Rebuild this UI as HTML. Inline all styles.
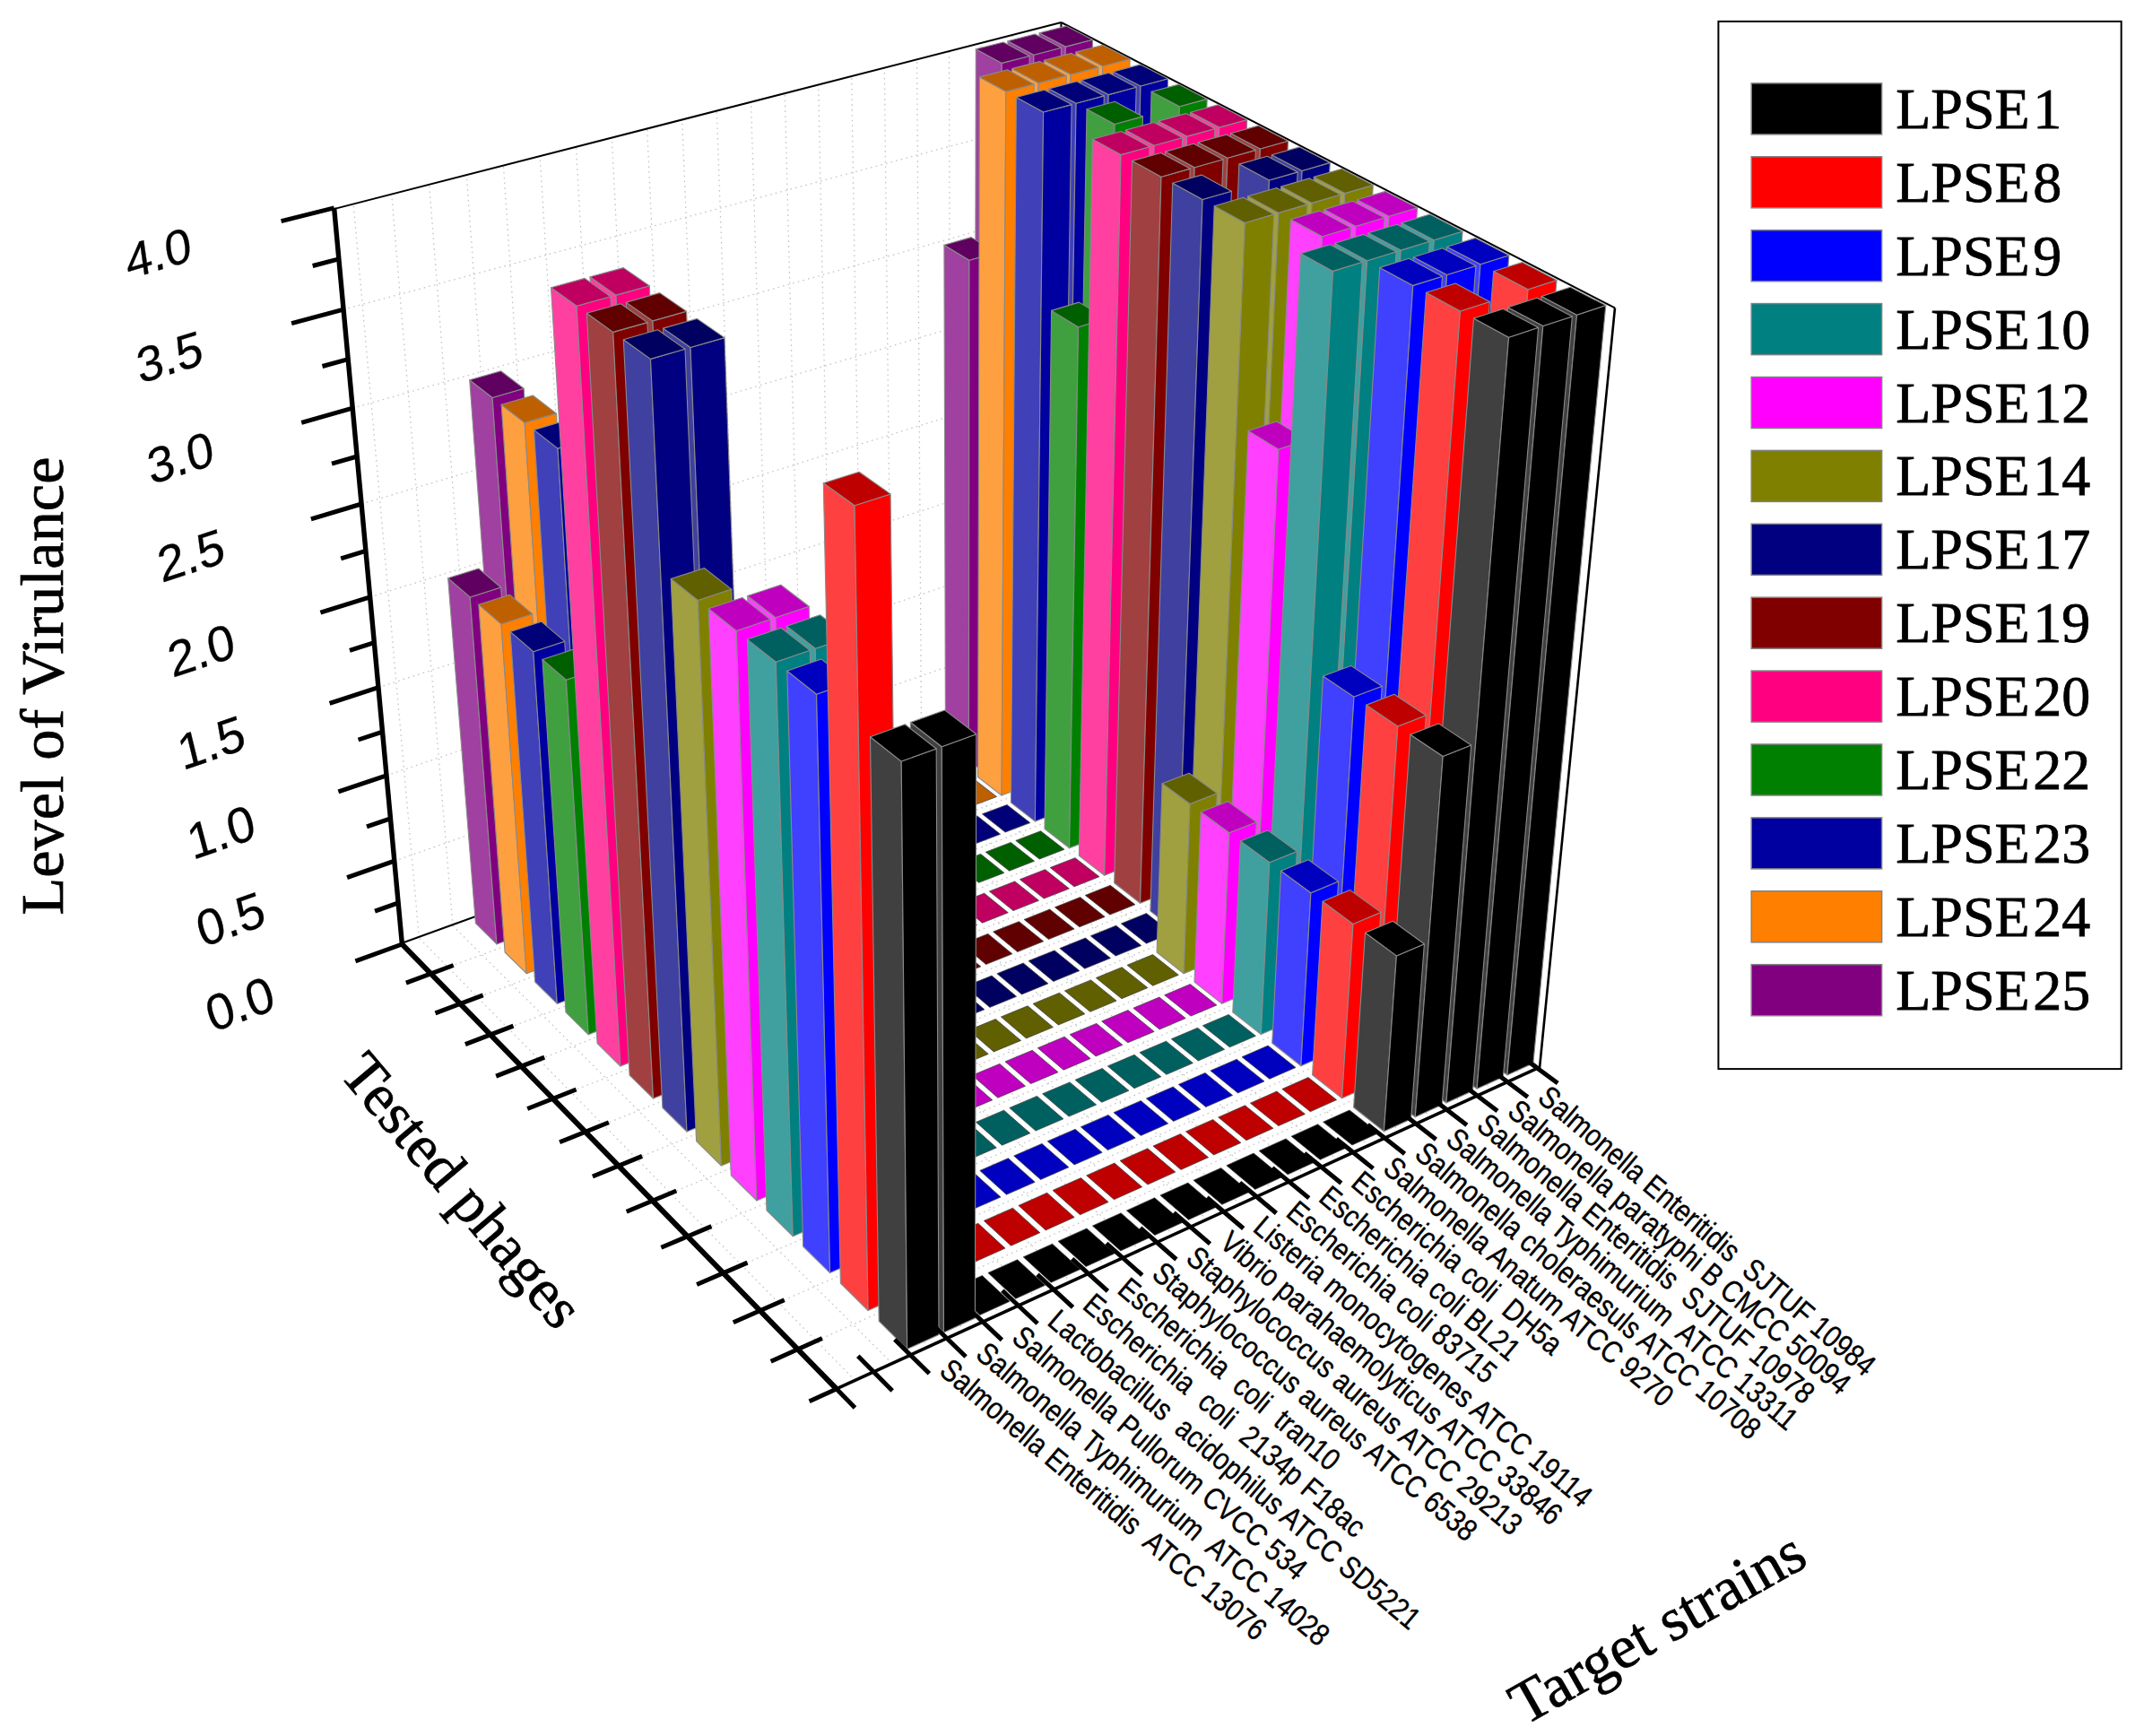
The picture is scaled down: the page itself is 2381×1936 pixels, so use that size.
<!DOCTYPE html>
<html><head><meta charset="utf-8"><title>Level of Virulance</title>
<style>html,body{margin:0;padding:0;background:#fff}svg{display:block}</style></head>
<body><svg width="2381" height="1936" viewBox="0 0 2381 1936">
<rect width="2381" height="1936" fill="#fff"/>
<g fill="none">
<line x1="467.4" y1="1046.1" x2="394.0" y2="226.3" stroke="#c4c4c4" stroke-width="1.3" stroke-dasharray="1.6,4.2"/>
<line x1="953.7" y1="1539.4" x2="467.4" y2="1046.1" stroke="#c4c4c4" stroke-width="1.3" stroke-dasharray="1.6,4.2"/>
<line x1="505.0" y1="1032.4" x2="436.6" y2="215.5" stroke="#c4c4c4" stroke-width="1.3" stroke-dasharray="1.6,4.2"/>
<line x1="994.9" y1="1520.5" x2="505.0" y2="1032.4" stroke="#c4c4c4" stroke-width="1.3" stroke-dasharray="1.6,4.2"/>
<line x1="542.2" y1="1018.8" x2="478.6" y2="204.8" stroke="#c4c4c4" stroke-width="1.3" stroke-dasharray="1.6,4.2"/>
<line x1="1035.8" y1="1501.8" x2="542.2" y2="1018.8" stroke="#c4c4c4" stroke-width="1.3" stroke-dasharray="1.6,4.2"/>
<line x1="579.1" y1="1005.4" x2="520.3" y2="194.3" stroke="#c4c4c4" stroke-width="1.3" stroke-dasharray="1.6,4.2"/>
<line x1="1076.1" y1="1483.3" x2="579.1" y2="1005.4" stroke="#c4c4c4" stroke-width="1.3" stroke-dasharray="1.6,4.2"/>
<line x1="615.6" y1="992.1" x2="561.4" y2="183.8" stroke="#c4c4c4" stroke-width="1.3" stroke-dasharray="1.6,4.2"/>
<line x1="1116.0" y1="1465.1" x2="615.6" y2="992.1" stroke="#c4c4c4" stroke-width="1.3" stroke-dasharray="1.6,4.2"/>
<line x1="651.8" y1="978.9" x2="602.1" y2="173.5" stroke="#c4c4c4" stroke-width="1.3" stroke-dasharray="1.6,4.2"/>
<line x1="1155.5" y1="1447.0" x2="651.8" y2="978.9" stroke="#c4c4c4" stroke-width="1.3" stroke-dasharray="1.6,4.2"/>
<line x1="687.6" y1="965.9" x2="642.4" y2="163.3" stroke="#c4c4c4" stroke-width="1.3" stroke-dasharray="1.6,4.2"/>
<line x1="1194.5" y1="1429.2" x2="687.6" y2="965.9" stroke="#c4c4c4" stroke-width="1.3" stroke-dasharray="1.6,4.2"/>
<line x1="723.1" y1="953.0" x2="682.3" y2="153.1" stroke="#c4c4c4" stroke-width="1.3" stroke-dasharray="1.6,4.2"/>
<line x1="1233.0" y1="1411.5" x2="723.1" y2="953.0" stroke="#c4c4c4" stroke-width="1.3" stroke-dasharray="1.6,4.2"/>
<line x1="758.2" y1="940.2" x2="721.7" y2="143.1" stroke="#c4c4c4" stroke-width="1.3" stroke-dasharray="1.6,4.2"/>
<line x1="1271.1" y1="1394.0" x2="758.2" y2="940.2" stroke="#c4c4c4" stroke-width="1.3" stroke-dasharray="1.6,4.2"/>
<line x1="793.1" y1="927.5" x2="760.7" y2="133.2" stroke="#c4c4c4" stroke-width="1.3" stroke-dasharray="1.6,4.2"/>
<line x1="1308.9" y1="1376.8" x2="793.1" y2="927.5" stroke="#c4c4c4" stroke-width="1.3" stroke-dasharray="1.6,4.2"/>
<line x1="827.5" y1="915.0" x2="799.3" y2="123.4" stroke="#c4c4c4" stroke-width="1.3" stroke-dasharray="1.6,4.2"/>
<line x1="1346.2" y1="1359.7" x2="827.5" y2="915.0" stroke="#c4c4c4" stroke-width="1.3" stroke-dasharray="1.6,4.2"/>
<line x1="861.7" y1="902.6" x2="837.5" y2="113.7" stroke="#c4c4c4" stroke-width="1.3" stroke-dasharray="1.6,4.2"/>
<line x1="1383.0" y1="1342.8" x2="861.7" y2="902.6" stroke="#c4c4c4" stroke-width="1.3" stroke-dasharray="1.6,4.2"/>
<line x1="895.5" y1="890.3" x2="875.3" y2="104.1" stroke="#c4c4c4" stroke-width="1.3" stroke-dasharray="1.6,4.2"/>
<line x1="1419.5" y1="1326.1" x2="895.5" y2="890.3" stroke="#c4c4c4" stroke-width="1.3" stroke-dasharray="1.6,4.2"/>
<line x1="929.0" y1="878.1" x2="912.7" y2="94.6" stroke="#c4c4c4" stroke-width="1.3" stroke-dasharray="1.6,4.2"/>
<line x1="1455.6" y1="1309.6" x2="929.0" y2="878.1" stroke="#c4c4c4" stroke-width="1.3" stroke-dasharray="1.6,4.2"/>
<line x1="962.2" y1="866.0" x2="949.7" y2="85.2" stroke="#c4c4c4" stroke-width="1.3" stroke-dasharray="1.6,4.2"/>
<line x1="1491.3" y1="1293.2" x2="962.2" y2="866.0" stroke="#c4c4c4" stroke-width="1.3" stroke-dasharray="1.6,4.2"/>
<line x1="995.1" y1="854.0" x2="986.3" y2="75.9" stroke="#c4c4c4" stroke-width="1.3" stroke-dasharray="1.6,4.2"/>
<line x1="1526.6" y1="1277.1" x2="995.1" y2="854.0" stroke="#c4c4c4" stroke-width="1.3" stroke-dasharray="1.6,4.2"/>
<line x1="1027.7" y1="842.1" x2="1022.6" y2="66.7" stroke="#c4c4c4" stroke-width="1.3" stroke-dasharray="1.6,4.2"/>
<line x1="1561.6" y1="1261.1" x2="1027.7" y2="842.1" stroke="#c4c4c4" stroke-width="1.3" stroke-dasharray="1.6,4.2"/>
<line x1="1060.0" y1="830.4" x2="1058.5" y2="57.6" stroke="#c4c4c4" stroke-width="1.3" stroke-dasharray="1.6,4.2"/>
<line x1="1596.2" y1="1245.2" x2="1060.0" y2="830.4" stroke="#c4c4c4" stroke-width="1.3" stroke-dasharray="1.6,4.2"/>
<line x1="1092.0" y1="818.7" x2="1094.0" y2="48.6" stroke="#c4c4c4" stroke-width="1.3" stroke-dasharray="1.6,4.2"/>
<line x1="1630.4" y1="1229.6" x2="1092.0" y2="818.7" stroke="#c4c4c4" stroke-width="1.3" stroke-dasharray="1.6,4.2"/>
<line x1="1123.7" y1="807.2" x2="1129.2" y2="39.7" stroke="#c4c4c4" stroke-width="1.3" stroke-dasharray="1.6,4.2"/>
<line x1="1664.2" y1="1214.1" x2="1123.7" y2="807.2" stroke="#c4c4c4" stroke-width="1.3" stroke-dasharray="1.6,4.2"/>
<line x1="1155.2" y1="795.8" x2="1164.0" y2="30.8" stroke="#c4c4c4" stroke-width="1.3" stroke-dasharray="1.6,4.2"/>
<line x1="1697.7" y1="1198.7" x2="1155.2" y2="795.8" stroke="#c4c4c4" stroke-width="1.3" stroke-dasharray="1.6,4.2"/>
<line x1="439.9" y1="960.2" x2="1172.0" y2="702.9" stroke="#c4c4c4" stroke-width="1.3" stroke-dasharray="1.6,4.2"/>
<line x1="431.0" y1="864.8" x2="1173.2" y2="613.5" stroke="#c4c4c4" stroke-width="1.3" stroke-dasharray="1.6,4.2"/>
<line x1="422.0" y1="766.7" x2="1174.5" y2="521.9" stroke="#c4c4c4" stroke-width="1.3" stroke-dasharray="1.6,4.2"/>
<line x1="412.7" y1="665.8" x2="1175.8" y2="427.9" stroke="#c4c4c4" stroke-width="1.3" stroke-dasharray="1.6,4.2"/>
<line x1="403.1" y1="562.0" x2="1177.1" y2="331.5" stroke="#c4c4c4" stroke-width="1.3" stroke-dasharray="1.6,4.2"/>
<line x1="393.2" y1="455.2" x2="1178.4" y2="232.5" stroke="#c4c4c4" stroke-width="1.3" stroke-dasharray="1.6,4.2"/>
<line x1="383.0" y1="345.1" x2="1179.8" y2="130.8" stroke="#c4c4c4" stroke-width="1.3" stroke-dasharray="1.6,4.2"/>
<line x1="889.7" y1="1504.7" x2="1666.6" y2="1155.9" stroke="#c4c4c4" stroke-width="1.3" stroke-dasharray="1.6,4.2"/>
<line x1="847.6" y1="1461.7" x2="1620.0" y2="1121.5" stroke="#c4c4c4" stroke-width="1.3" stroke-dasharray="1.6,4.2"/>
<line x1="806.6" y1="1419.7" x2="1574.5" y2="1087.9" stroke="#c4c4c4" stroke-width="1.3" stroke-dasharray="1.6,4.2"/>
<line x1="766.7" y1="1378.9" x2="1529.9" y2="1055.1" stroke="#c4c4c4" stroke-width="1.3" stroke-dasharray="1.6,4.2"/>
<line x1="727.8" y1="1339.0" x2="1486.4" y2="1023.0" stroke="#c4c4c4" stroke-width="1.3" stroke-dasharray="1.6,4.2"/>
<line x1="689.8" y1="1300.2" x2="1443.9" y2="991.6" stroke="#c4c4c4" stroke-width="1.3" stroke-dasharray="1.6,4.2"/>
<line x1="652.8" y1="1262.3" x2="1402.3" y2="960.9" stroke="#c4c4c4" stroke-width="1.3" stroke-dasharray="1.6,4.2"/>
<line x1="616.7" y1="1225.3" x2="1361.6" y2="930.9" stroke="#c4c4c4" stroke-width="1.3" stroke-dasharray="1.6,4.2"/>
<line x1="581.4" y1="1189.2" x2="1321.8" y2="901.5" stroke="#c4c4c4" stroke-width="1.3" stroke-dasharray="1.6,4.2"/>
<line x1="547.0" y1="1153.9" x2="1282.8" y2="872.8" stroke="#c4c4c4" stroke-width="1.3" stroke-dasharray="1.6,4.2"/>
<line x1="513.4" y1="1119.5" x2="1244.7" y2="844.6" stroke="#c4c4c4" stroke-width="1.3" stroke-dasharray="1.6,4.2"/>
<line x1="480.5" y1="1085.8" x2="1207.4" y2="817.1" stroke="#c4c4c4" stroke-width="1.3" stroke-dasharray="1.6,4.2"/>
</g>
<line x1="374.2" y1="232.6" x2="1183.5" y2="25.0" stroke="#000" stroke-width="2" />
<line x1="1183.5" y1="25.0" x2="1801.0" y2="343.4" stroke="#000" stroke-width="2" />
<line x1="1801.0" y1="343.4" x2="1717.0" y2="1191.0" stroke="#000" stroke-width="2.6" />
<line x1="447.6" y1="1052.0" x2="1170.8" y2="790.1" stroke="#000" stroke-width="2" />
<line x1="1183.5" y1="25.0" x2="1170.8" y2="790.1" stroke="#000" stroke-width="2" />
<line x1="1170.8" y1="790.1" x2="1717.0" y2="1191.0" stroke="#000" stroke-width="2" />
<polygon points="1150.7,803.4 1177.0,823.0 1188.3,52.1 1159.1,36.8" fill="#a040a0" stroke="#8a8a8a" stroke-width="1.1" stroke-linejoin="round"/>
<polygon points="1177.0,823.0 1204.3,812.9 1218.5,44.3 1188.3,52.1" fill="#800080" stroke="#8a8a8a" stroke-width="1.1" stroke-linejoin="round"/>
<polygon points="1188.3,52.1 1159.1,36.8 1189.2,29.1 1218.5,44.3" fill="#600060" stroke="#8a8a8a" stroke-width="1.1" stroke-linejoin="round"/>
<polygon points="1118.9,815.0 1145.1,834.7 1152.9,61.2 1123.9,45.7" fill="#a040a0" stroke="#8a8a8a" stroke-width="1.1" stroke-linejoin="round"/>
<polygon points="1145.1,834.7 1172.6,824.6 1183.5,53.3 1152.9,61.2" fill="#800080" stroke="#8a8a8a" stroke-width="1.1" stroke-linejoin="round"/>
<polygon points="1152.9,61.2 1123.9,45.7 1154.3,38.0 1183.5,53.3" fill="#600060" stroke="#8a8a8a" stroke-width="1.1" stroke-linejoin="round"/>
<polygon points="1086.9,826.7 1112.9,846.6 1117.2,70.4 1088.3,54.8" fill="#a040a0" stroke="#8a8a8a" stroke-width="1.1" stroke-linejoin="round"/>
<polygon points="1112.9,846.6 1140.7,836.4 1148.1,62.5 1117.2,70.4" fill="#800080" stroke="#8a8a8a" stroke-width="1.1" stroke-linejoin="round"/>
<polygon points="1117.2,70.4 1088.3,54.8 1119.0,47.0 1148.1,62.5" fill="#600060" stroke="#8a8a8a" stroke-width="1.1" stroke-linejoin="round"/>
<polygon points="1054.5,838.5 1080.4,858.6 1080.9,290.3 1052.9,273.2" fill="#a040a0" stroke="#8a8a8a" stroke-width="1.1" stroke-linejoin="round"/>
<polygon points="1080.4,858.6 1108.5,848.3 1111.2,281.6 1080.9,290.3" fill="#800080" stroke="#8a8a8a" stroke-width="1.1" stroke-linejoin="round"/>
<polygon points="1080.9,290.3 1052.9,273.2 1083.1,264.6 1111.2,281.6" fill="#600060" stroke="#8a8a8a" stroke-width="1.1" stroke-linejoin="round"/>
<polygon points="1047.5,870.1 1022.9,850.7 1050.1,840.7 1074.9,860.0" fill="#600060" stroke="#444" stroke-width="0.8" stroke-linejoin="round"/>
<polygon points="1014.4,882.3 989.9,862.7 1017.4,852.6 1042.0,872.1" fill="#600060" stroke="#444" stroke-width="0.8" stroke-linejoin="round"/>
<polygon points="981.0,894.6 956.6,874.8 984.4,864.7 1008.9,884.4" fill="#600060" stroke="#444" stroke-width="0.8" stroke-linejoin="round"/>
<polygon points="947.3,907.1 923.0,887.1 951.0,876.9 975.4,896.7" fill="#600060" stroke="#444" stroke-width="0.8" stroke-linejoin="round"/>
<polygon points="913.2,919.7 889.1,899.5 917.4,889.1 941.6,909.2" fill="#600060" stroke="#444" stroke-width="0.8" stroke-linejoin="round"/>
<polygon points="878.9,932.3 854.9,912.0 883.4,901.5 907.5,921.8" fill="#600060" stroke="#444" stroke-width="0.8" stroke-linejoin="round"/>
<polygon points="844.1,945.1 820.3,924.6 849.1,914.0 873.1,934.5" fill="#600060" stroke="#444" stroke-width="0.8" stroke-linejoin="round"/>
<polygon points="809.1,958.1 785.4,937.3 814.5,926.7 838.3,947.3" fill="#600060" stroke="#444" stroke-width="0.8" stroke-linejoin="round"/>
<polygon points="773.7,971.1 750.2,950.1 779.6,939.4 803.2,960.2" fill="#600060" stroke="#444" stroke-width="0.8" stroke-linejoin="round"/>
<polygon points="738.0,984.3 714.6,963.1 744.3,952.3 767.8,973.3" fill="#600060" stroke="#444" stroke-width="0.8" stroke-linejoin="round"/>
<polygon points="701.9,997.6 678.7,976.2 708.6,965.3 732.0,986.5" fill="#600060" stroke="#444" stroke-width="0.8" stroke-linejoin="round"/>
<polygon points="665.5,1011.1 642.4,989.5 672.7,978.4 695.9,999.8" fill="#600060" stroke="#444" stroke-width="0.8" stroke-linejoin="round"/>
<polygon points="628.7,1024.6 605.8,1002.8 636.3,991.7 659.4,1013.3" fill="#600060" stroke="#444" stroke-width="0.8" stroke-linejoin="round"/>
<polygon points="567.7,1016.1 591.4,1039.0 549.1,443.5 523.7,423.7" fill="#a040a0" stroke="#8a8a8a" stroke-width="1.1" stroke-linejoin="round"/>
<polygon points="591.4,1039.0 623.6,1027.2 584.2,433.3 549.1,443.5" fill="#800080" stroke="#8a8a8a" stroke-width="1.1" stroke-linejoin="round"/>
<polygon points="549.1,443.5 523.7,423.7 558.6,413.8 584.2,433.3" fill="#600060" stroke="#8a8a8a" stroke-width="1.1" stroke-linejoin="round"/>
<polygon points="530.4,1029.7 553.9,1052.9 524.2,665.9 499.6,644.7" fill="#a040a0" stroke="#8a8a8a" stroke-width="1.1" stroke-linejoin="round"/>
<polygon points="553.9,1052.9 586.3,1040.9 558.6,655.0 524.2,665.9" fill="#800080" stroke="#8a8a8a" stroke-width="1.1" stroke-linejoin="round"/>
<polygon points="524.2,665.9 499.6,644.7 533.8,634.0 558.6,655.0" fill="#600060" stroke="#8a8a8a" stroke-width="1.1" stroke-linejoin="round"/>
<polygon points="1187.3,830.7 1214.1,850.7 1229.7,73.8 1199.8,58.1" fill="#ffa040" stroke="#8a8a8a" stroke-width="1.1" stroke-linejoin="round"/>
<polygon points="1214.1,850.7 1241.5,840.4 1260.1,65.8 1229.7,73.8" fill="#ff8000" stroke="#8a8a8a" stroke-width="1.1" stroke-linejoin="round"/>
<polygon points="1229.7,73.8 1199.8,58.1 1230.1,50.3 1260.1,65.8" fill="#bf6000" stroke="#8a8a8a" stroke-width="1.1" stroke-linejoin="round"/>
<polygon points="1155.3,842.5 1182.0,862.7 1194.1,83.1 1164.3,67.3" fill="#ffa040" stroke="#8a8a8a" stroke-width="1.1" stroke-linejoin="round"/>
<polygon points="1182.0,862.7 1209.7,852.3 1224.8,75.1 1194.1,83.1" fill="#ff8000" stroke="#8a8a8a" stroke-width="1.1" stroke-linejoin="round"/>
<polygon points="1194.1,83.1 1164.3,67.3 1195.0,59.4 1224.8,75.1" fill="#bf6000" stroke="#8a8a8a" stroke-width="1.1" stroke-linejoin="round"/>
<polygon points="1123.1,854.5 1149.7,874.8 1158.1,92.6 1128.5,76.6" fill="#ffa040" stroke="#8a8a8a" stroke-width="1.1" stroke-linejoin="round"/>
<polygon points="1149.7,874.8 1177.6,864.3 1189.2,84.4 1158.1,92.6" fill="#ff8000" stroke="#8a8a8a" stroke-width="1.1" stroke-linejoin="round"/>
<polygon points="1158.1,92.6 1128.5,76.6 1159.5,68.6 1189.2,84.4" fill="#bf6000" stroke="#8a8a8a" stroke-width="1.1" stroke-linejoin="round"/>
<polygon points="1090.6,866.5 1117.0,887.1 1121.8,102.1 1092.4,85.9" fill="#ffa040" stroke="#8a8a8a" stroke-width="1.1" stroke-linejoin="round"/>
<polygon points="1117.0,887.1 1145.2,876.5 1153.2,93.9 1121.8,102.1" fill="#ff8000" stroke="#8a8a8a" stroke-width="1.1" stroke-linejoin="round"/>
<polygon points="1121.8,102.1 1092.4,85.9 1123.6,77.8 1153.2,93.9" fill="#bf6000" stroke="#8a8a8a" stroke-width="1.1" stroke-linejoin="round"/>
<polygon points="1083.9,898.8 1058.7,878.9 1086.1,868.8 1111.5,888.5" fill="#bf6000" stroke="#444" stroke-width="0.8" stroke-linejoin="round"/>
<polygon points="1050.7,911.3 1025.6,891.2 1053.2,881.0 1078.4,900.9" fill="#bf6000" stroke="#444" stroke-width="0.8" stroke-linejoin="round"/>
<polygon points="1017.1,923.9 992.1,903.6 1020.0,893.3 1045.1,913.4" fill="#bf6000" stroke="#444" stroke-width="0.8" stroke-linejoin="round"/>
<polygon points="983.1,936.6 958.3,916.2 986.5,905.7 1011.4,926.0" fill="#bf6000" stroke="#444" stroke-width="0.8" stroke-linejoin="round"/>
<polygon points="948.9,949.5 924.2,928.8 952.7,918.3 977.5,938.7" fill="#bf6000" stroke="#444" stroke-width="0.8" stroke-linejoin="round"/>
<polygon points="914.3,962.4 889.8,941.6 918.5,930.9 943.1,951.6" fill="#bf6000" stroke="#444" stroke-width="0.8" stroke-linejoin="round"/>
<polygon points="879.4,975.5 855.0,954.5 884.0,943.7 908.5,964.6" fill="#bf6000" stroke="#444" stroke-width="0.8" stroke-linejoin="round"/>
<polygon points="844.1,988.7 819.9,967.5 849.2,956.6 873.5,977.7" fill="#bf6000" stroke="#444" stroke-width="0.8" stroke-linejoin="round"/>
<polygon points="808.5,1002.1 784.4,980.6 814.0,969.7 838.2,990.9" fill="#bf6000" stroke="#444" stroke-width="0.8" stroke-linejoin="round"/>
<polygon points="772.5,1015.6 748.6,993.9 778.5,982.8 802.5,1004.3" fill="#bf6000" stroke="#444" stroke-width="0.8" stroke-linejoin="round"/>
<polygon points="736.2,1029.2 712.5,1007.3 742.6,996.1 766.5,1017.8" fill="#bf6000" stroke="#444" stroke-width="0.8" stroke-linejoin="round"/>
<polygon points="699.5,1042.9 675.9,1020.9 706.4,1009.6 730.1,1031.5" fill="#bf6000" stroke="#444" stroke-width="0.8" stroke-linejoin="round"/>
<polygon points="662.5,1056.8 639.1,1034.5 669.8,1023.1 693.4,1045.2" fill="#bf6000" stroke="#444" stroke-width="0.8" stroke-linejoin="round"/>
<polygon points="600.8,1048.1 625.0,1071.6 585.1,471.4 559.1,451.2" fill="#ffa040" stroke="#8a8a8a" stroke-width="1.1" stroke-linejoin="round"/>
<polygon points="625.0,1071.6 657.4,1059.4 620.5,461.1 585.1,471.4" fill="#ff8000" stroke="#8a8a8a" stroke-width="1.1" stroke-linejoin="round"/>
<polygon points="585.1,471.4 559.1,451.2 594.3,441.0 620.5,461.1" fill="#bf6000" stroke="#8a8a8a" stroke-width="1.1" stroke-linejoin="round"/>
<polygon points="563.1,1062.0 587.2,1085.7 559.0,695.9 533.8,674.2" fill="#ffa040" stroke="#8a8a8a" stroke-width="1.1" stroke-linejoin="round"/>
<polygon points="587.2,1085.7 619.9,1073.5 593.7,684.7 559.0,695.9" fill="#ff8000" stroke="#8a8a8a" stroke-width="1.1" stroke-linejoin="round"/>
<polygon points="559.0,695.9 533.8,674.2 568.3,663.2 593.7,684.7" fill="#bf6000" stroke="#8a8a8a" stroke-width="1.1" stroke-linejoin="round"/>
<polygon points="1224.6,858.5 1252.0,878.9 1272.0,96.0 1241.4,80.0" fill="#4040b8" stroke="#8a8a8a" stroke-width="1.1" stroke-linejoin="round"/>
<polygon points="1252.0,878.9 1279.6,868.4 1302.6,87.8 1272.0,96.0" fill="#0000a0" stroke="#8a8a8a" stroke-width="1.1" stroke-linejoin="round"/>
<polygon points="1272.0,96.0 1241.4,80.0 1271.9,71.9 1302.6,87.8" fill="#000078" stroke="#8a8a8a" stroke-width="1.1" stroke-linejoin="round"/>
<polygon points="1192.5,870.6 1219.8,891.2 1236.2,105.6 1205.8,89.4" fill="#4040b8" stroke="#8a8a8a" stroke-width="1.1" stroke-linejoin="round"/>
<polygon points="1219.8,891.2 1247.6,880.6 1267.2,97.3 1236.2,105.6" fill="#0000a0" stroke="#8a8a8a" stroke-width="1.1" stroke-linejoin="round"/>
<polygon points="1236.2,105.6 1205.8,89.4 1236.6,81.2 1267.2,97.3" fill="#000078" stroke="#8a8a8a" stroke-width="1.1" stroke-linejoin="round"/>
<polygon points="1160.1,882.8 1187.2,903.6 1200.1,115.3 1169.8,98.9" fill="#4040b8" stroke="#8a8a8a" stroke-width="1.1" stroke-linejoin="round"/>
<polygon points="1187.2,903.6 1215.3,892.9 1231.3,106.9 1200.1,115.3" fill="#0000a0" stroke="#8a8a8a" stroke-width="1.1" stroke-linejoin="round"/>
<polygon points="1200.1,115.3 1169.8,98.9 1200.9,90.7 1231.3,106.9" fill="#000078" stroke="#8a8a8a" stroke-width="1.1" stroke-linejoin="round"/>
<polygon points="1127.4,895.1 1154.4,916.1 1163.6,125.0 1133.4,108.5" fill="#4040b8" stroke="#8a8a8a" stroke-width="1.1" stroke-linejoin="round"/>
<polygon points="1154.4,916.1 1182.8,905.3 1195.1,116.6 1163.6,125.0" fill="#0000a0" stroke="#8a8a8a" stroke-width="1.1" stroke-linejoin="round"/>
<polygon points="1163.6,125.0 1133.4,108.5 1164.8,100.2 1195.1,116.6" fill="#000078" stroke="#8a8a8a" stroke-width="1.1" stroke-linejoin="round"/>
<polygon points="1121.1,928.1 1095.4,907.8 1123.0,897.5 1148.8,917.6" fill="#000078" stroke="#444" stroke-width="0.8" stroke-linejoin="round"/>
<polygon points="1087.7,940.9 1062.0,920.4 1089.9,909.9 1115.6,930.3" fill="#000078" stroke="#444" stroke-width="0.8" stroke-linejoin="round"/>
<polygon points="1053.9,953.8 1028.4,933.1 1056.5,922.5 1082.1,943.0" fill="#000078" stroke="#444" stroke-width="0.8" stroke-linejoin="round"/>
<polygon points="1019.8,966.8 994.4,945.9 1022.8,935.2 1048.2,955.9" fill="#000078" stroke="#444" stroke-width="0.8" stroke-linejoin="round"/>
<polygon points="985.3,979.9 960.1,958.8 988.7,948.0 1014.1,969.0" fill="#000078" stroke="#444" stroke-width="0.8" stroke-linejoin="round"/>
<polygon points="950.5,993.2 925.4,971.9 954.3,961.0 979.5,982.1" fill="#000078" stroke="#444" stroke-width="0.8" stroke-linejoin="round"/>
<polygon points="915.4,1006.6 890.4,985.1 919.6,974.1 944.7,995.4" fill="#000078" stroke="#444" stroke-width="0.8" stroke-linejoin="round"/>
<polygon points="879.9,1020.1 855.1,998.4 884.6,987.3 909.5,1008.8" fill="#000078" stroke="#444" stroke-width="0.8" stroke-linejoin="round"/>
<polygon points="844.1,1033.8 819.4,1011.8 849.2,1000.6 874.0,1022.4" fill="#000078" stroke="#444" stroke-width="0.8" stroke-linejoin="round"/>
<polygon points="807.9,1047.6 783.4,1025.4 813.5,1014.1 838.1,1036.0" fill="#000078" stroke="#444" stroke-width="0.8" stroke-linejoin="round"/>
<polygon points="771.3,1061.5 747.0,1039.1 777.4,1027.7 801.8,1049.9" fill="#000078" stroke="#444" stroke-width="0.8" stroke-linejoin="round"/>
<polygon points="734.4,1075.6 710.2,1053.0 740.9,1041.4 765.2,1063.8" fill="#000078" stroke="#444" stroke-width="0.8" stroke-linejoin="round"/>
<polygon points="697.1,1089.8 673.1,1067.0 704.1,1055.3 728.2,1077.9" fill="#000078" stroke="#444" stroke-width="0.8" stroke-linejoin="round"/>
<polygon points="634.5,1080.8 659.4,1104.9 622.0,500.1 595.4,479.4" fill="#4040b8" stroke="#8a8a8a" stroke-width="1.1" stroke-linejoin="round"/>
<polygon points="659.4,1104.9 691.9,1092.4 657.7,489.5 622.0,500.1" fill="#0000a0" stroke="#8a8a8a" stroke-width="1.1" stroke-linejoin="round"/>
<polygon points="622.0,500.1 595.4,479.4 630.8,468.9 657.7,489.5" fill="#000078" stroke="#8a8a8a" stroke-width="1.1" stroke-linejoin="round"/>
<polygon points="596.7,1095.1 621.3,1119.4 594.8,726.7 569.0,704.4" fill="#4040b8" stroke="#8a8a8a" stroke-width="1.1" stroke-linejoin="round"/>
<polygon points="621.3,1119.4 654.2,1106.8 629.7,715.2 594.8,726.7" fill="#0000a0" stroke="#8a8a8a" stroke-width="1.1" stroke-linejoin="round"/>
<polygon points="594.8,726.7 569.0,704.4 603.7,693.2 629.7,715.2" fill="#000078" stroke="#8a8a8a" stroke-width="1.1" stroke-linejoin="round"/>
<polygon points="1262.8,887.0 1290.7,907.8 1315.4,118.8 1284.1,102.3" fill="#40a040" stroke="#8a8a8a" stroke-width="1.1" stroke-linejoin="round"/>
<polygon points="1290.7,907.8 1318.4,897.1 1346.2,110.4 1315.4,118.8" fill="#008000" stroke="#8a8a8a" stroke-width="1.1" stroke-linejoin="round"/>
<polygon points="1315.4,118.8 1284.1,102.3 1314.7,94.1 1346.2,110.4" fill="#006000" stroke="#8a8a8a" stroke-width="1.1" stroke-linejoin="round"/>
<polygon points="1230.5,899.3 1258.3,920.4 1273.7,343.1 1243.4,325.1" fill="#40a040" stroke="#8a8a8a" stroke-width="1.1" stroke-linejoin="round"/>
<polygon points="1258.3,920.4 1286.3,909.5 1304.0,333.9 1273.7,343.1" fill="#008000" stroke="#8a8a8a" stroke-width="1.1" stroke-linejoin="round"/>
<polygon points="1273.7,343.1 1243.4,325.1 1273.6,316.1 1304.0,333.9" fill="#006000" stroke="#8a8a8a" stroke-width="1.1" stroke-linejoin="round"/>
<polygon points="1197.9,911.8 1225.6,933.0 1243.1,138.5 1212.0,121.7" fill="#40a040" stroke="#8a8a8a" stroke-width="1.1" stroke-linejoin="round"/>
<polygon points="1225.6,933.0 1253.9,922.1 1274.5,129.9 1243.1,138.5" fill="#008000" stroke="#8a8a8a" stroke-width="1.1" stroke-linejoin="round"/>
<polygon points="1243.1,138.5 1212.0,121.7 1243.3,113.3 1274.5,129.9" fill="#006000" stroke="#8a8a8a" stroke-width="1.1" stroke-linejoin="round"/>
<polygon points="1165.0,924.4 1192.6,945.8 1202.6,364.7 1172.6,346.4" fill="#40a040" stroke="#8a8a8a" stroke-width="1.1" stroke-linejoin="round"/>
<polygon points="1192.6,945.8 1221.1,934.8 1233.5,355.3 1202.6,364.7" fill="#008000" stroke="#8a8a8a" stroke-width="1.1" stroke-linejoin="round"/>
<polygon points="1202.6,364.7 1172.6,346.4 1203.4,337.1 1233.5,355.3" fill="#006000" stroke="#8a8a8a" stroke-width="1.1" stroke-linejoin="round"/>
<polygon points="1159.2,958.1 1132.8,937.4 1160.6,926.8 1187.0,947.3" fill="#006000" stroke="#444" stroke-width="0.8" stroke-linejoin="round"/>
<polygon points="1125.5,971.2 1099.3,950.2 1127.3,939.5 1153.6,960.3" fill="#006000" stroke="#444" stroke-width="0.8" stroke-linejoin="round"/>
<polygon points="1091.5,984.3 1065.5,963.2 1093.7,952.4 1119.9,973.4" fill="#006000" stroke="#444" stroke-width="0.8" stroke-linejoin="round"/>
<polygon points="1057.2,997.6 1031.3,976.3 1059.8,965.4 1085.8,986.5" fill="#006000" stroke="#444" stroke-width="0.8" stroke-linejoin="round"/>
<polygon points="1022.6,1011.1 996.8,989.5 1025.6,978.5 1051.5,999.9" fill="#006000" stroke="#444" stroke-width="0.8" stroke-linejoin="round"/>
<polygon points="987.6,1024.6 961.9,1002.9 991.0,991.7 1016.8,1013.3" fill="#006000" stroke="#444" stroke-width="0.8" stroke-linejoin="round"/>
<polygon points="952.2,1038.3 926.7,1016.3 956.1,1005.1 981.7,1026.9" fill="#006000" stroke="#444" stroke-width="0.8" stroke-linejoin="round"/>
<polygon points="916.5,1052.2 891.2,1030.0 920.8,1018.6 946.3,1040.6" fill="#006000" stroke="#444" stroke-width="0.8" stroke-linejoin="round"/>
<polygon points="880.4,1066.1 855.3,1043.7 885.2,1032.2 910.5,1054.5" fill="#006000" stroke="#444" stroke-width="0.8" stroke-linejoin="round"/>
<polygon points="844.0,1080.3 819.0,1057.6 849.2,1046.0 874.4,1068.5" fill="#006000" stroke="#444" stroke-width="0.8" stroke-linejoin="round"/>
<polygon points="807.2,1094.5 782.4,1071.6 812.9,1059.9 837.9,1082.6" fill="#006000" stroke="#444" stroke-width="0.8" stroke-linejoin="round"/>
<polygon points="770.0,1108.9 745.4,1085.8 776.2,1074.0 801.1,1096.9" fill="#006000" stroke="#444" stroke-width="0.8" stroke-linejoin="round"/>
<polygon points="732.5,1123.5 708.0,1100.1 739.2,1088.2 763.8,1111.3" fill="#006000" stroke="#444" stroke-width="0.8" stroke-linejoin="round"/>
<polygon points="669.1,1114.3 694.5,1138.9 672.1,744.6 645.5,722.1" fill="#40a040" stroke="#8a8a8a" stroke-width="1.1" stroke-linejoin="round"/>
<polygon points="694.5,1138.9 727.3,1126.2 707.0,733.0 672.1,744.6" fill="#008000" stroke="#8a8a8a" stroke-width="1.1" stroke-linejoin="round"/>
<polygon points="672.1,744.6 645.5,722.1 680.1,710.7 707.0,733.0" fill="#006000" stroke="#8a8a8a" stroke-width="1.1" stroke-linejoin="round"/>
<polygon points="631.0,1128.9 656.2,1153.8 631.4,758.2 604.9,735.4" fill="#40a040" stroke="#8a8a8a" stroke-width="1.1" stroke-linejoin="round"/>
<polygon points="656.2,1153.8 689.3,1140.9 666.6,746.5 631.4,758.2" fill="#008000" stroke="#8a8a8a" stroke-width="1.1" stroke-linejoin="round"/>
<polygon points="631.4,758.2 604.9,735.4 639.9,723.9 666.6,746.5" fill="#006000" stroke="#8a8a8a" stroke-width="1.1" stroke-linejoin="round"/>
<polygon points="1301.7,916.0 1330.3,937.3 1359.8,142.1 1327.7,125.2" fill="#ff40a0" stroke="#8a8a8a" stroke-width="1.1" stroke-linejoin="round"/>
<polygon points="1330.3,937.3 1358.2,926.3 1390.8,133.5 1359.8,142.1" fill="#ff0080" stroke="#8a8a8a" stroke-width="1.1" stroke-linejoin="round"/>
<polygon points="1359.8,142.1 1327.7,125.2 1358.6,116.8 1390.8,133.5" fill="#bf0060" stroke="#8a8a8a" stroke-width="1.1" stroke-linejoin="round"/>
<polygon points="1269.3,928.6 1297.7,950.2 1323.7,152.1 1291.7,135.1" fill="#ff40a0" stroke="#8a8a8a" stroke-width="1.1" stroke-linejoin="round"/>
<polygon points="1297.7,950.2 1325.9,939.1 1354.9,143.5 1323.7,152.1" fill="#ff0080" stroke="#8a8a8a" stroke-width="1.1" stroke-linejoin="round"/>
<polygon points="1323.7,152.1 1291.7,135.1 1322.8,126.6 1354.9,143.5" fill="#bf0060" stroke="#8a8a8a" stroke-width="1.1" stroke-linejoin="round"/>
<polygon points="1236.5,941.4 1264.9,963.1 1287.1,162.3 1255.3,145.1" fill="#ff40a0" stroke="#8a8a8a" stroke-width="1.1" stroke-linejoin="round"/>
<polygon points="1264.9,963.1 1293.3,951.9 1318.7,153.5 1287.1,162.3" fill="#ff0080" stroke="#8a8a8a" stroke-width="1.1" stroke-linejoin="round"/>
<polygon points="1287.1,162.3 1255.3,145.1 1286.8,136.5 1318.7,153.5" fill="#bf0060" stroke="#8a8a8a" stroke-width="1.1" stroke-linejoin="round"/>
<polygon points="1203.4,954.3 1231.7,976.2 1250.1,172.6 1218.5,155.2" fill="#ff40a0" stroke="#8a8a8a" stroke-width="1.1" stroke-linejoin="round"/>
<polygon points="1231.7,976.2 1260.3,964.9 1282.1,163.7 1250.1,172.6" fill="#ff0080" stroke="#8a8a8a" stroke-width="1.1" stroke-linejoin="round"/>
<polygon points="1250.1,172.6 1218.5,155.2 1250.3,146.5 1282.1,163.7" fill="#bf0060" stroke="#8a8a8a" stroke-width="1.1" stroke-linejoin="round"/>
<polygon points="1198.0,988.8 1171.1,967.6 1199.0,956.7 1226.0,977.7" fill="#bf0060" stroke="#444" stroke-width="0.8" stroke-linejoin="round"/>
<polygon points="1164.2,1002.1 1137.4,980.7 1165.6,969.7 1192.4,991.0" fill="#bf0060" stroke="#444" stroke-width="0.8" stroke-linejoin="round"/>
<polygon points="1130.0,1015.6 1103.4,994.0 1131.8,982.9 1158.5,1004.3" fill="#bf0060" stroke="#444" stroke-width="0.8" stroke-linejoin="round"/>
<polygon points="1095.5,1029.2 1069.0,1007.3 1097.7,996.2 1124.3,1017.8" fill="#bf0060" stroke="#444" stroke-width="0.8" stroke-linejoin="round"/>
<polygon points="1060.7,1042.9 1034.3,1020.9 1063.2,1009.6 1089.7,1031.5" fill="#bf0060" stroke="#444" stroke-width="0.8" stroke-linejoin="round"/>
<polygon points="1025.4,1056.8 999.2,1034.5 1028.5,1023.1 1054.8,1045.2" fill="#bf0060" stroke="#444" stroke-width="0.8" stroke-linejoin="round"/>
<polygon points="989.9,1070.8 963.8,1048.3 993.3,1036.8 1019.6,1059.1" fill="#bf0060" stroke="#444" stroke-width="0.8" stroke-linejoin="round"/>
<polygon points="954.0,1085.0 928.0,1062.3 957.9,1050.6 983.9,1073.2" fill="#bf0060" stroke="#444" stroke-width="0.8" stroke-linejoin="round"/>
<polygon points="917.7,1099.3 891.9,1076.3 922.0,1064.6 947.9,1087.4" fill="#bf0060" stroke="#444" stroke-width="0.8" stroke-linejoin="round"/>
<polygon points="881.0,1113.7 855.4,1090.6 885.8,1078.7 911.6,1101.7" fill="#bf0060" stroke="#444" stroke-width="0.8" stroke-linejoin="round"/>
<polygon points="844.0,1128.3 818.5,1104.9 849.3,1092.9 874.9,1116.2" fill="#bf0060" stroke="#444" stroke-width="0.8" stroke-linejoin="round"/>
<polygon points="806.5,1143.1 781.3,1119.4 812.4,1107.3 837.8,1130.8" fill="#bf0060" stroke="#444" stroke-width="0.8" stroke-linejoin="round"/>
<polygon points="768.7,1158.0 743.6,1134.1 775.0,1121.9 800.3,1145.6" fill="#bf0060" stroke="#444" stroke-width="0.8" stroke-linejoin="round"/>
<polygon points="704.5,1148.6 730.5,1173.8 686.9,329.1 658.0,308.8" fill="#ff40a0" stroke="#8a8a8a" stroke-width="1.1" stroke-linejoin="round"/>
<polygon points="730.5,1173.8 763.5,1160.8 724.3,318.7 686.9,329.1" fill="#ff0080" stroke="#8a8a8a" stroke-width="1.1" stroke-linejoin="round"/>
<polygon points="686.9,329.1 658.0,308.8 695.2,298.6 724.3,318.7" fill="#bf0060" stroke="#8a8a8a" stroke-width="1.1" stroke-linejoin="round"/>
<polygon points="666.1,1163.6 691.9,1189.0 643.1,341.2 614.5,320.7" fill="#ff40a0" stroke="#8a8a8a" stroke-width="1.1" stroke-linejoin="round"/>
<polygon points="691.9,1189.0 725.3,1175.9 680.9,330.7 643.1,341.2" fill="#ff0080" stroke="#8a8a8a" stroke-width="1.1" stroke-linejoin="round"/>
<polygon points="643.1,341.2 614.5,320.7 652.1,310.4 680.9,330.7" fill="#bf0060" stroke="#8a8a8a" stroke-width="1.1" stroke-linejoin="round"/>
<polygon points="1341.5,945.7 1370.7,967.5 1405.4,166.0 1372.5,148.7" fill="#a04040" stroke="#8a8a8a" stroke-width="1.1" stroke-linejoin="round"/>
<polygon points="1370.7,967.5 1398.7,956.3 1436.5,157.2 1405.4,166.0" fill="#800000" stroke="#8a8a8a" stroke-width="1.1" stroke-linejoin="round"/>
<polygon points="1405.4,166.0 1372.5,148.7 1403.5,140.1 1436.5,157.2" fill="#600000" stroke="#8a8a8a" stroke-width="1.1" stroke-linejoin="round"/>
<polygon points="1308.9,958.6 1338.0,980.6 1369.0,176.3 1336.2,158.8" fill="#a04040" stroke="#8a8a8a" stroke-width="1.1" stroke-linejoin="round"/>
<polygon points="1338.0,980.6 1366.3,969.3 1400.4,167.4 1369.0,176.3" fill="#800000" stroke="#8a8a8a" stroke-width="1.1" stroke-linejoin="round"/>
<polygon points="1369.0,176.3 1336.2,158.8 1367.6,150.1 1400.4,167.4" fill="#600000" stroke="#8a8a8a" stroke-width="1.1" stroke-linejoin="round"/>
<polygon points="1276.0,971.7 1305.0,993.9 1332.2,186.7 1299.6,169.1" fill="#a04040" stroke="#8a8a8a" stroke-width="1.1" stroke-linejoin="round"/>
<polygon points="1305.0,993.9 1333.5,982.4 1364.0,177.7 1332.2,186.7" fill="#800000" stroke="#8a8a8a" stroke-width="1.1" stroke-linejoin="round"/>
<polygon points="1332.2,186.7 1299.6,169.1 1331.3,160.2 1364.0,177.7" fill="#600000" stroke="#8a8a8a" stroke-width="1.1" stroke-linejoin="round"/>
<polygon points="1242.7,984.8 1271.6,1007.3 1295.0,197.2 1262.6,179.4" fill="#a04040" stroke="#8a8a8a" stroke-width="1.1" stroke-linejoin="round"/>
<polygon points="1271.6,1007.3 1300.4,995.7 1327.2,188.1 1295.0,197.2" fill="#800000" stroke="#8a8a8a" stroke-width="1.1" stroke-linejoin="round"/>
<polygon points="1295.0,197.2 1262.6,179.4 1294.6,170.5 1327.2,188.1" fill="#600000" stroke="#8a8a8a" stroke-width="1.1" stroke-linejoin="round"/>
<polygon points="1237.8,1020.1 1210.3,998.4 1238.3,987.3 1265.9,1008.8" fill="#600000" stroke="#444" stroke-width="0.8" stroke-linejoin="round"/>
<polygon points="1203.8,1033.8 1176.4,1011.8 1204.7,1000.6 1232.2,1022.4" fill="#600000" stroke="#444" stroke-width="0.8" stroke-linejoin="round"/>
<polygon points="1169.4,1047.5 1142.1,1025.4 1170.7,1014.1 1198.1,1036.0" fill="#600000" stroke="#444" stroke-width="0.8" stroke-linejoin="round"/>
<polygon points="1134.7,1061.5 1107.6,1039.1 1136.4,1027.7 1163.7,1049.8" fill="#600000" stroke="#444" stroke-width="0.8" stroke-linejoin="round"/>
<polygon points="1099.6,1075.5 1072.6,1053.0 1101.8,1041.4 1128.9,1063.8" fill="#600000" stroke="#444" stroke-width="0.8" stroke-linejoin="round"/>
<polygon points="1064.2,1089.7 1037.4,1066.9 1066.8,1055.3 1093.8,1077.9" fill="#600000" stroke="#444" stroke-width="0.8" stroke-linejoin="round"/>
<polygon points="1028.4,1104.1 1001.7,1081.1 1031.5,1069.3 1058.3,1092.1" fill="#600000" stroke="#444" stroke-width="0.8" stroke-linejoin="round"/>
<polygon points="992.3,1118.6 965.7,1095.3 995.8,1083.4 1022.4,1106.5" fill="#600000" stroke="#444" stroke-width="0.8" stroke-linejoin="round"/>
<polygon points="955.8,1133.2 929.4,1109.7 959.7,1097.7 986.2,1121.0" fill="#600000" stroke="#444" stroke-width="0.8" stroke-linejoin="round"/>
<polygon points="918.9,1148.0 892.6,1124.3 923.3,1112.1 949.7,1135.7" fill="#600000" stroke="#444" stroke-width="0.8" stroke-linejoin="round"/>
<polygon points="881.6,1163.0 855.5,1139.0 886.5,1126.7 912.7,1150.5" fill="#600000" stroke="#444" stroke-width="0.8" stroke-linejoin="round"/>
<polygon points="843.9,1178.1 818.0,1153.8 849.3,1141.4 875.4,1165.5" fill="#600000" stroke="#444" stroke-width="0.8" stroke-linejoin="round"/>
<polygon points="805.9,1193.3 780.2,1168.9 811.8,1156.3 837.6,1180.6" fill="#600000" stroke="#444" stroke-width="0.8" stroke-linejoin="round"/>
<polygon points="740.7,1183.7 767.4,1209.5 727.9,357.9 698.3,337.1" fill="#a04040" stroke="#8a8a8a" stroke-width="1.1" stroke-linejoin="round"/>
<polygon points="767.4,1209.5 800.6,1196.2 765.6,347.2 727.9,357.9" fill="#800000" stroke="#8a8a8a" stroke-width="1.1" stroke-linejoin="round"/>
<polygon points="727.9,357.9 698.3,337.1 735.7,326.6 765.6,347.2" fill="#600000" stroke="#8a8a8a" stroke-width="1.1" stroke-linejoin="round"/>
<polygon points="702.1,1199.1 728.5,1225.1 683.7,370.4 654.3,349.3" fill="#a04040" stroke="#8a8a8a" stroke-width="1.1" stroke-linejoin="round"/>
<polygon points="728.5,1225.1 762.1,1211.7 721.9,359.6 683.7,370.4" fill="#800000" stroke="#8a8a8a" stroke-width="1.1" stroke-linejoin="round"/>
<polygon points="683.7,370.4 654.3,349.3 692.3,338.7 721.9,359.6" fill="#600000" stroke="#8a8a8a" stroke-width="1.1" stroke-linejoin="round"/>
<polygon points="1382.2,976.1 1412.1,998.3 1452.1,190.5 1418.3,172.8" fill="#4040a0" stroke="#8a8a8a" stroke-width="1.1" stroke-linejoin="round"/>
<polygon points="1412.1,998.3 1440.2,986.8 1483.3,181.4 1452.1,190.5" fill="#000080" stroke="#8a8a8a" stroke-width="1.1" stroke-linejoin="round"/>
<polygon points="1452.1,190.5 1418.3,172.8 1449.5,163.9 1483.3,181.4" fill="#000060" stroke="#8a8a8a" stroke-width="1.1" stroke-linejoin="round"/>
<polygon points="1349.4,989.3 1379.2,1011.8 1415.5,201.0 1381.9,183.1" fill="#4040a0" stroke="#8a8a8a" stroke-width="1.1" stroke-linejoin="round"/>
<polygon points="1379.2,1011.8 1407.6,1000.2 1447.1,191.9 1415.5,201.0" fill="#000080" stroke="#8a8a8a" stroke-width="1.1" stroke-linejoin="round"/>
<polygon points="1415.5,201.0 1381.9,183.1 1413.4,174.2 1447.1,191.9" fill="#000060" stroke="#8a8a8a" stroke-width="1.1" stroke-linejoin="round"/>
<polygon points="1316.4,1002.6 1346.0,1025.3 1369.7,432.8 1337.3,413.3" fill="#4040a0" stroke="#8a8a8a" stroke-width="1.1" stroke-linejoin="round"/>
<polygon points="1346.0,1025.3 1374.7,1013.6 1400.7,422.8 1369.7,432.8" fill="#000080" stroke="#8a8a8a" stroke-width="1.1" stroke-linejoin="round"/>
<polygon points="1369.7,432.8 1337.3,413.3 1368.2,403.5 1400.7,422.8" fill="#000060" stroke="#8a8a8a" stroke-width="1.1" stroke-linejoin="round"/>
<polygon points="1282.9,1016.1 1312.4,1039.0 1341.1,222.5 1307.8,204.2" fill="#4040a0" stroke="#8a8a8a" stroke-width="1.1" stroke-linejoin="round"/>
<polygon points="1312.4,1039.0 1341.4,1027.2 1373.4,213.2 1341.1,222.5" fill="#000080" stroke="#8a8a8a" stroke-width="1.1" stroke-linejoin="round"/>
<polygon points="1341.1,222.5 1307.8,204.2 1340.0,195.1 1373.4,213.2" fill="#000060" stroke="#8a8a8a" stroke-width="1.1" stroke-linejoin="round"/>
<polygon points="1278.4,1052.2 1250.3,1030.0 1278.5,1018.6 1306.7,1040.6" fill="#000060" stroke="#444" stroke-width="0.8" stroke-linejoin="round"/>
<polygon points="1244.2,1066.1 1216.2,1043.7 1244.7,1032.2 1272.8,1054.5" fill="#000060" stroke="#444" stroke-width="0.8" stroke-linejoin="round"/>
<polygon points="1209.7,1080.2 1181.8,1057.6 1210.5,1046.0 1238.5,1068.5" fill="#000060" stroke="#444" stroke-width="0.8" stroke-linejoin="round"/>
<polygon points="1174.8,1094.5 1147.0,1071.6 1176.0,1059.9 1203.9,1082.6" fill="#000060" stroke="#444" stroke-width="0.8" stroke-linejoin="round"/>
<polygon points="1139.5,1108.9 1111.9,1085.8 1141.2,1074.0 1168.9,1096.9" fill="#000060" stroke="#444" stroke-width="0.8" stroke-linejoin="round"/>
<polygon points="1103.9,1123.4 1076.4,1100.1 1106.0,1088.1 1133.6,1111.3" fill="#000060" stroke="#444" stroke-width="0.8" stroke-linejoin="round"/>
<polygon points="1067.9,1138.1 1040.6,1114.5 1070.5,1102.5 1097.9,1125.8" fill="#000060" stroke="#444" stroke-width="0.8" stroke-linejoin="round"/>
<polygon points="1031.5,1152.9 1004.3,1129.1 1034.6,1117.0 1061.9,1140.6" fill="#000060" stroke="#444" stroke-width="0.8" stroke-linejoin="round"/>
<polygon points="994.8,1167.9 967.8,1143.9 998.3,1131.6 1025.4,1155.4" fill="#000060" stroke="#444" stroke-width="0.8" stroke-linejoin="round"/>
<polygon points="957.6,1183.1 930.8,1158.8 961.6,1146.4 988.6,1170.4" fill="#000060" stroke="#444" stroke-width="0.8" stroke-linejoin="round"/>
<polygon points="920.1,1198.4 893.4,1173.9 924.6,1161.3 951.4,1185.6" fill="#000060" stroke="#444" stroke-width="0.8" stroke-linejoin="round"/>
<polygon points="882.2,1213.9 855.7,1189.1 887.2,1176.4 913.8,1201.0" fill="#000060" stroke="#444" stroke-width="0.8" stroke-linejoin="round"/>
<polygon points="843.9,1229.5 817.5,1204.5 849.4,1191.6 875.9,1216.5" fill="#000060" stroke="#444" stroke-width="0.8" stroke-linejoin="round"/>
<polygon points="777.9,1219.7 805.1,1246.1 770.0,387.5 739.6,366.1" fill="#4040a0" stroke="#8a8a8a" stroke-width="1.1" stroke-linejoin="round"/>
<polygon points="805.1,1246.1 838.6,1232.5 808.0,376.6 770.0,387.5" fill="#000080" stroke="#8a8a8a" stroke-width="1.1" stroke-linejoin="round"/>
<polygon points="770.0,387.5 739.6,366.1 777.4,355.4 808.0,376.6" fill="#000060" stroke="#8a8a8a" stroke-width="1.1" stroke-linejoin="round"/>
<polygon points="738.9,1235.4 766.0,1262.1 725.5,400.4 695.3,378.7" fill="#4040a0" stroke="#8a8a8a" stroke-width="1.1" stroke-linejoin="round"/>
<polygon points="766.0,1262.1 799.8,1248.3 764.0,389.3 725.5,400.4" fill="#000080" stroke="#8a8a8a" stroke-width="1.1" stroke-linejoin="round"/>
<polygon points="725.5,400.4 695.3,378.7 733.6,367.8 764.0,389.3" fill="#000060" stroke="#8a8a8a" stroke-width="1.1" stroke-linejoin="round"/>
<polygon points="1423.8,1007.1 1454.4,1029.9 1499.9,215.6 1465.3,197.4" fill="#a0a040" stroke="#8a8a8a" stroke-width="1.1" stroke-linejoin="round"/>
<polygon points="1454.4,1029.9 1482.6,1018.1 1531.3,206.3 1499.9,215.6" fill="#808000" stroke="#8a8a8a" stroke-width="1.1" stroke-linejoin="round"/>
<polygon points="1499.9,215.6 1465.3,197.4 1496.6,188.3 1531.3,206.3" fill="#606000" stroke="#8a8a8a" stroke-width="1.1" stroke-linejoin="round"/>
<polygon points="1390.9,1020.6 1421.3,1043.6 1463.1,226.4 1428.7,208.1" fill="#a0a040" stroke="#8a8a8a" stroke-width="1.1" stroke-linejoin="round"/>
<polygon points="1421.3,1043.6 1449.9,1031.7 1494.9,217.0 1463.1,226.4" fill="#808000" stroke="#8a8a8a" stroke-width="1.1" stroke-linejoin="round"/>
<polygon points="1463.1,226.4 1428.7,208.1 1460.4,198.9 1494.9,217.0" fill="#606000" stroke="#8a8a8a" stroke-width="1.1" stroke-linejoin="round"/>
<polygon points="1357.6,1034.3 1387.9,1057.5 1425.9,237.4 1391.6,218.8" fill="#a0a040" stroke="#8a8a8a" stroke-width="1.1" stroke-linejoin="round"/>
<polygon points="1387.9,1057.5 1416.8,1045.5 1458.1,227.9 1425.9,237.4" fill="#808000" stroke="#8a8a8a" stroke-width="1.1" stroke-linejoin="round"/>
<polygon points="1425.9,237.4 1391.6,218.8 1423.7,209.5 1458.1,227.9" fill="#606000" stroke="#8a8a8a" stroke-width="1.1" stroke-linejoin="round"/>
<polygon points="1324.0,1048.0 1354.2,1071.5 1388.3,248.5 1354.2,229.7" fill="#a0a040" stroke="#8a8a8a" stroke-width="1.1" stroke-linejoin="round"/>
<polygon points="1354.2,1071.5 1383.3,1059.4 1420.8,238.9 1388.3,248.5" fill="#808000" stroke="#8a8a8a" stroke-width="1.1" stroke-linejoin="round"/>
<polygon points="1388.3,248.5 1354.2,229.7 1386.6,220.3 1420.8,238.9" fill="#606000" stroke="#8a8a8a" stroke-width="1.1" stroke-linejoin="round"/>
<polygon points="1290.1,1062.0 1320.2,1085.7 1327.1,896.5 1296.1,873.8" fill="#a0a040" stroke="#8a8a8a" stroke-width="1.1" stroke-linejoin="round"/>
<polygon points="1320.2,1085.7 1349.6,1073.4 1357.3,884.8 1327.1,896.5" fill="#808000" stroke="#8a8a8a" stroke-width="1.1" stroke-linejoin="round"/>
<polygon points="1327.1,896.5 1296.1,873.8 1326.2,862.3 1357.3,884.8" fill="#606000" stroke="#8a8a8a" stroke-width="1.1" stroke-linejoin="round"/>
<polygon points="1285.6,1099.2 1257.0,1076.3 1285.6,1064.6 1314.3,1087.3" fill="#606000" stroke="#444" stroke-width="0.8" stroke-linejoin="round"/>
<polygon points="1250.9,1113.7 1222.3,1090.5 1251.2,1078.7 1279.9,1101.6" fill="#606000" stroke="#444" stroke-width="0.8" stroke-linejoin="round"/>
<polygon points="1215.8,1128.3 1187.4,1104.9 1216.6,1092.9 1245.1,1116.1" fill="#606000" stroke="#444" stroke-width="0.8" stroke-linejoin="round"/>
<polygon points="1180.3,1143.0 1152.0,1119.4 1181.5,1107.3 1209.9,1130.7" fill="#606000" stroke="#444" stroke-width="0.8" stroke-linejoin="round"/>
<polygon points="1144.5,1157.9 1116.4,1134.0 1146.1,1121.8 1174.4,1145.5" fill="#606000" stroke="#444" stroke-width="0.8" stroke-linejoin="round"/>
<polygon points="1108.3,1172.9 1080.3,1148.8 1110.4,1136.5 1138.5,1160.4" fill="#606000" stroke="#444" stroke-width="0.8" stroke-linejoin="round"/>
<polygon points="1071.7,1188.1 1043.9,1163.8 1074.3,1151.3 1102.2,1175.4" fill="#606000" stroke="#444" stroke-width="0.8" stroke-linejoin="round"/>
<polygon points="1034.7,1203.5 1007.0,1178.9 1037.8,1166.3 1065.6,1190.7" fill="#606000" stroke="#444" stroke-width="0.8" stroke-linejoin="round"/>
<polygon points="997.3,1219.0 969.8,1194.1 1000.9,1181.4 1028.5,1206.1" fill="#606000" stroke="#444" stroke-width="0.8" stroke-linejoin="round"/>
<polygon points="959.6,1234.7 932.2,1209.6 963.6,1196.7 991.1,1221.6" fill="#606000" stroke="#444" stroke-width="0.8" stroke-linejoin="round"/>
<polygon points="921.4,1250.6 894.2,1225.2 926.0,1212.2 953.3,1237.3" fill="#606000" stroke="#444" stroke-width="0.8" stroke-linejoin="round"/>
<polygon points="882.8,1266.6 855.8,1240.9 887.9,1227.8 915.0,1253.2" fill="#606000" stroke="#444" stroke-width="0.8" stroke-linejoin="round"/>
<polygon points="815.9,1256.5 843.8,1283.6 829.5,877.7 800.0,852.7" fill="#a0a040" stroke="#8a8a8a" stroke-width="1.1" stroke-linejoin="round"/>
<polygon points="843.8,1283.6 877.5,1269.6 865.4,864.8 829.5,877.7" fill="#808000" stroke="#8a8a8a" stroke-width="1.1" stroke-linejoin="round"/>
<polygon points="829.5,877.7 800.0,852.7 835.7,840.1 865.4,864.8" fill="#606000" stroke="#8a8a8a" stroke-width="1.1" stroke-linejoin="round"/>
<polygon points="776.6,1272.6 804.4,1300.0 778.3,669.4 748.2,645.5" fill="#a0a040" stroke="#8a8a8a" stroke-width="1.1" stroke-linejoin="round"/>
<polygon points="804.4,1300.0 838.5,1285.8 815.8,657.1 778.3,669.4" fill="#808000" stroke="#8a8a8a" stroke-width="1.1" stroke-linejoin="round"/>
<polygon points="778.3,669.4 748.2,645.5 785.4,633.5 815.8,657.1" fill="#606000" stroke="#8a8a8a" stroke-width="1.1" stroke-linejoin="round"/>
<polygon points="1466.4,1038.8 1497.6,1062.1 1549.0,241.3 1513.5,222.7" fill="#ff40ff" stroke="#8a8a8a" stroke-width="1.1" stroke-linejoin="round"/>
<polygon points="1497.6,1062.1 1526.0,1050.1 1580.6,231.8 1549.0,241.3" fill="#ff00ff" stroke="#8a8a8a" stroke-width="1.1" stroke-linejoin="round"/>
<polygon points="1549.0,241.3 1513.5,222.7 1545.0,213.4 1580.6,231.8" fill="#bf00bf" stroke="#8a8a8a" stroke-width="1.1" stroke-linejoin="round"/>
<polygon points="1433.3,1052.7 1464.4,1076.2 1512.0,252.4 1476.7,233.6" fill="#ff40ff" stroke="#8a8a8a" stroke-width="1.1" stroke-linejoin="round"/>
<polygon points="1464.4,1076.2 1493.1,1064.0 1544.0,242.8 1512.0,252.4" fill="#ff00ff" stroke="#8a8a8a" stroke-width="1.1" stroke-linejoin="round"/>
<polygon points="1512.0,252.4 1476.7,233.6 1508.5,224.2 1544.0,242.8" fill="#bf00bf" stroke="#8a8a8a" stroke-width="1.1" stroke-linejoin="round"/>
<polygon points="1399.8,1066.6 1430.8,1090.4 1474.6,263.7 1439.4,244.7" fill="#ff40ff" stroke="#8a8a8a" stroke-width="1.1" stroke-linejoin="round"/>
<polygon points="1430.8,1090.4 1459.8,1078.1 1506.9,254.0 1474.6,263.7" fill="#ff00ff" stroke="#8a8a8a" stroke-width="1.1" stroke-linejoin="round"/>
<polygon points="1474.6,263.7 1439.4,244.7 1471.6,235.1 1506.9,254.0" fill="#bf00bf" stroke="#8a8a8a" stroke-width="1.1" stroke-linejoin="round"/>
<polygon points="1366.1,1080.7 1397.0,1104.7 1425.9,501.1 1392.1,480.4" fill="#ff40ff" stroke="#8a8a8a" stroke-width="1.1" stroke-linejoin="round"/>
<polygon points="1397.0,1104.7 1426.2,1092.3 1457.7,490.5 1425.9,501.1" fill="#ff00ff" stroke="#8a8a8a" stroke-width="1.1" stroke-linejoin="round"/>
<polygon points="1425.9,501.1 1392.1,480.4 1423.7,470.0 1457.7,490.5" fill="#bf00bf" stroke="#8a8a8a" stroke-width="1.1" stroke-linejoin="round"/>
<polygon points="1332.0,1095.0 1362.7,1119.2 1370.9,928.8 1339.2,905.5" fill="#ff40ff" stroke="#8a8a8a" stroke-width="1.1" stroke-linejoin="round"/>
<polygon points="1362.7,1119.2 1392.3,1106.7 1401.3,916.8 1370.9,928.8" fill="#ff00ff" stroke="#8a8a8a" stroke-width="1.1" stroke-linejoin="round"/>
<polygon points="1370.9,928.8 1339.2,905.5 1369.5,893.7 1401.3,916.8" fill="#bf00bf" stroke="#8a8a8a" stroke-width="1.1" stroke-linejoin="round"/>
<polygon points="1328.0,1133.1 1298.7,1109.7 1327.4,1097.6 1356.9,1120.9" fill="#bf00bf" stroke="#444" stroke-width="0.8" stroke-linejoin="round"/>
<polygon points="1293.1,1147.9 1263.9,1124.2 1292.9,1112.1 1322.2,1135.6" fill="#bf00bf" stroke="#444" stroke-width="0.8" stroke-linejoin="round"/>
<polygon points="1257.8,1162.8 1228.7,1138.9 1258.0,1126.6 1287.2,1150.4" fill="#bf00bf" stroke="#444" stroke-width="0.8" stroke-linejoin="round"/>
<polygon points="1222.1,1177.9 1193.2,1153.7 1222.8,1141.4 1251.9,1165.3" fill="#bf00bf" stroke="#444" stroke-width="0.8" stroke-linejoin="round"/>
<polygon points="1186.1,1193.2 1157.3,1168.7 1187.2,1156.2 1216.1,1180.5" fill="#bf00bf" stroke="#444" stroke-width="0.8" stroke-linejoin="round"/>
<polygon points="1149.6,1208.6 1121.0,1183.9 1151.3,1171.3 1180.0,1195.7" fill="#bf00bf" stroke="#444" stroke-width="0.8" stroke-linejoin="round"/>
<polygon points="1112.8,1224.2 1084.3,1199.2 1114.9,1186.4 1143.5,1211.2" fill="#bf00bf" stroke="#444" stroke-width="0.8" stroke-linejoin="round"/>
<polygon points="1075.6,1239.9 1047.3,1214.7 1078.2,1201.8 1106.7,1226.8" fill="#bf00bf" stroke="#444" stroke-width="0.8" stroke-linejoin="round"/>
<polygon points="1038.0,1255.8 1009.8,1230.3 1041.1,1217.3 1069.4,1242.6" fill="#bf00bf" stroke="#444" stroke-width="0.8" stroke-linejoin="round"/>
<polygon points="1000.0,1271.9 972.0,1246.2 1003.6,1233.0 1031.7,1258.5" fill="#bf00bf" stroke="#444" stroke-width="0.8" stroke-linejoin="round"/>
<polygon points="961.6,1288.2 933.7,1262.1 965.7,1248.8 993.6,1274.6" fill="#bf00bf" stroke="#444" stroke-width="0.8" stroke-linejoin="round"/>
<polygon points="922.7,1304.6 895.1,1278.3 927.3,1264.8 955.1,1290.9" fill="#bf00bf" stroke="#444" stroke-width="0.8" stroke-linejoin="round"/>
<polygon points="854.8,1294.3 883.5,1322.1 864.9,688.8 833.7,664.5" fill="#ff40ff" stroke="#8a8a8a" stroke-width="1.1" stroke-linejoin="round"/>
<polygon points="883.5,1322.1 917.4,1307.7 902.2,676.3 864.9,688.8" fill="#ff00ff" stroke="#8a8a8a" stroke-width="1.1" stroke-linejoin="round"/>
<polygon points="864.9,688.8 833.7,664.5 870.8,652.3 902.2,676.3" fill="#bf00bf" stroke="#8a8a8a" stroke-width="1.1" stroke-linejoin="round"/>
<polygon points="815.3,1310.8 843.8,1338.9 821.2,703.4 790.2,678.8" fill="#ff40ff" stroke="#8a8a8a" stroke-width="1.1" stroke-linejoin="round"/>
<polygon points="843.8,1338.9 878.1,1324.3 859.0,690.7 821.2,703.4" fill="#ff00ff" stroke="#8a8a8a" stroke-width="1.1" stroke-linejoin="round"/>
<polygon points="821.2,703.4 790.2,678.8 827.8,666.4 859.0,690.7" fill="#bf00bf" stroke="#8a8a8a" stroke-width="1.1" stroke-linejoin="round"/>
<polygon points="1509.9,1071.3 1541.9,1095.1 1599.3,267.7 1562.9,248.6" fill="#40a0a0" stroke="#8a8a8a" stroke-width="1.1" stroke-linejoin="round"/>
<polygon points="1541.9,1095.1 1570.4,1082.8 1631.1,258.0 1599.3,267.7" fill="#008080" stroke="#8a8a8a" stroke-width="1.1" stroke-linejoin="round"/>
<polygon points="1599.3,267.7 1562.9,248.6 1594.6,239.0 1631.1,258.0" fill="#006060" stroke="#8a8a8a" stroke-width="1.1" stroke-linejoin="round"/>
<polygon points="1476.6,1085.4 1508.5,1109.5 1562.2,279.1 1525.9,259.8" fill="#40a0a0" stroke="#8a8a8a" stroke-width="1.1" stroke-linejoin="round"/>
<polygon points="1508.5,1109.5 1537.3,1097.1 1594.3,269.3 1562.2,279.1" fill="#008080" stroke="#8a8a8a" stroke-width="1.1" stroke-linejoin="round"/>
<polygon points="1562.2,279.1 1525.9,259.8 1557.9,250.2 1594.3,269.3" fill="#006060" stroke="#8a8a8a" stroke-width="1.1" stroke-linejoin="round"/>
<polygon points="1443.0,1099.7 1474.8,1124.1 1524.6,290.7 1488.5,271.2" fill="#40a0a0" stroke="#8a8a8a" stroke-width="1.1" stroke-linejoin="round"/>
<polygon points="1474.8,1124.1 1503.9,1111.5 1557.1,280.7 1524.6,290.7" fill="#008080" stroke="#8a8a8a" stroke-width="1.1" stroke-linejoin="round"/>
<polygon points="1524.6,290.7 1488.5,271.2 1520.8,261.4 1557.1,280.7" fill="#006060" stroke="#8a8a8a" stroke-width="1.1" stroke-linejoin="round"/>
<polygon points="1409.1,1114.2 1440.7,1138.7 1486.5,302.4 1450.6,282.7" fill="#40a0a0" stroke="#8a8a8a" stroke-width="1.1" stroke-linejoin="round"/>
<polygon points="1440.7,1138.7 1470.1,1126.1 1519.4,292.3 1486.5,302.4" fill="#008080" stroke="#8a8a8a" stroke-width="1.1" stroke-linejoin="round"/>
<polygon points="1486.5,302.4 1450.6,282.7 1483.3,272.7 1519.4,292.3" fill="#006060" stroke="#8a8a8a" stroke-width="1.1" stroke-linejoin="round"/>
<polygon points="1374.8,1128.8 1406.3,1153.6 1415.8,961.8 1383.4,938.0" fill="#40a0a0" stroke="#8a8a8a" stroke-width="1.1" stroke-linejoin="round"/>
<polygon points="1406.3,1153.6 1436.0,1140.8 1446.4,949.5 1415.8,961.8" fill="#008080" stroke="#8a8a8a" stroke-width="1.1" stroke-linejoin="round"/>
<polygon points="1415.8,961.8 1383.4,938.0 1413.8,925.9 1446.4,949.5" fill="#006060" stroke="#8a8a8a" stroke-width="1.1" stroke-linejoin="round"/>
<polygon points="1371.4,1167.8 1341.3,1143.8 1370.2,1131.5 1400.4,1155.3" fill="#006060" stroke="#444" stroke-width="0.8" stroke-linejoin="round"/>
<polygon points="1336.3,1183.0 1306.3,1158.7 1335.6,1146.3 1365.6,1170.3" fill="#006060" stroke="#444" stroke-width="0.8" stroke-linejoin="round"/>
<polygon points="1300.8,1198.3 1271.0,1173.7 1300.5,1161.2 1330.4,1185.5" fill="#006060" stroke="#444" stroke-width="0.8" stroke-linejoin="round"/>
<polygon points="1264.9,1213.7 1235.3,1188.9 1265.1,1176.3 1294.8,1200.8" fill="#006060" stroke="#444" stroke-width="0.8" stroke-linejoin="round"/>
<polygon points="1228.6,1229.3 1199.1,1204.3 1229.3,1191.5 1258.9,1216.3" fill="#006060" stroke="#444" stroke-width="0.8" stroke-linejoin="round"/>
<polygon points="1192.0,1245.1 1162.6,1219.8 1193.1,1206.9 1222.6,1232.0" fill="#006060" stroke="#444" stroke-width="0.8" stroke-linejoin="round"/>
<polygon points="1155.0,1261.1 1125.8,1235.5 1156.5,1222.4 1185.9,1247.8" fill="#006060" stroke="#444" stroke-width="0.8" stroke-linejoin="round"/>
<polygon points="1117.5,1277.2 1088.5,1251.4 1119.6,1238.2 1148.8,1263.8" fill="#006060" stroke="#444" stroke-width="0.8" stroke-linejoin="round"/>
<polygon points="1079.7,1293.6 1050.8,1267.4 1082.3,1254.0 1111.3,1279.9" fill="#006060" stroke="#444" stroke-width="0.8" stroke-linejoin="round"/>
<polygon points="1041.4,1310.0 1012.7,1283.6 1044.5,1270.1 1073.3,1296.3" fill="#006060" stroke="#444" stroke-width="0.8" stroke-linejoin="round"/>
<polygon points="1002.8,1326.7 974.2,1300.0 1006.4,1286.3 1035.0,1312.8" fill="#006060" stroke="#444" stroke-width="0.8" stroke-linejoin="round"/>
<polygon points="963.7,1343.6 935.3,1316.6 967.8,1302.8 996.3,1329.5" fill="#006060" stroke="#444" stroke-width="0.8" stroke-linejoin="round"/>
<polygon points="894.8,1333.0 924.1,1361.5 909.3,723.3 877.2,698.3" fill="#40a0a0" stroke="#8a8a8a" stroke-width="1.1" stroke-linejoin="round"/>
<polygon points="924.1,1361.5 958.3,1346.7 946.9,710.4 909.3,723.3" fill="#008080" stroke="#8a8a8a" stroke-width="1.1" stroke-linejoin="round"/>
<polygon points="909.3,723.3 877.2,698.3 914.6,685.7 946.9,710.4" fill="#006060" stroke="#8a8a8a" stroke-width="1.1" stroke-linejoin="round"/>
<polygon points="855.0,1349.9 884.2,1378.7 865.3,738.3 833.4,713.1" fill="#40a0a0" stroke="#8a8a8a" stroke-width="1.1" stroke-linejoin="round"/>
<polygon points="884.2,1378.7 918.7,1363.8 903.3,725.3 865.3,738.3" fill="#008080" stroke="#8a8a8a" stroke-width="1.1" stroke-linejoin="round"/>
<polygon points="865.3,738.3 833.4,713.1 871.3,700.3 903.3,725.3" fill="#006060" stroke="#8a8a8a" stroke-width="1.1" stroke-linejoin="round"/>
<polygon points="1554.4,1104.5 1587.1,1128.9 1651.0,294.8 1613.7,275.2" fill="#4040ff" stroke="#8a8a8a" stroke-width="1.1" stroke-linejoin="round"/>
<polygon points="1587.1,1128.9 1615.8,1116.3 1682.9,284.8 1651.0,294.8" fill="#0000ff" stroke="#8a8a8a" stroke-width="1.1" stroke-linejoin="round"/>
<polygon points="1651.0,294.8 1613.7,275.2 1645.5,265.4 1682.9,284.8" fill="#0000bf" stroke="#8a8a8a" stroke-width="1.1" stroke-linejoin="round"/>
<polygon points="1521.0,1119.0 1553.6,1143.6 1613.6,306.6 1576.4,286.7" fill="#4040ff" stroke="#8a8a8a" stroke-width="1.1" stroke-linejoin="round"/>
<polygon points="1553.6,1143.6 1582.6,1130.9 1645.9,296.4 1613.6,306.6" fill="#0000ff" stroke="#8a8a8a" stroke-width="1.1" stroke-linejoin="round"/>
<polygon points="1613.6,306.6 1576.4,286.7 1608.6,276.8 1645.9,296.4" fill="#0000bf" stroke="#8a8a8a" stroke-width="1.1" stroke-linejoin="round"/>
<polygon points="1487.3,1133.6 1519.7,1158.5 1575.8,318.4 1538.8,298.4" fill="#4040ff" stroke="#8a8a8a" stroke-width="1.1" stroke-linejoin="round"/>
<polygon points="1519.7,1158.5 1549.0,1145.7 1608.5,308.2 1575.8,318.4" fill="#0000ff" stroke="#8a8a8a" stroke-width="1.1" stroke-linejoin="round"/>
<polygon points="1575.8,318.4 1538.8,298.4 1571.3,288.3 1608.5,308.2" fill="#0000bf" stroke="#8a8a8a" stroke-width="1.1" stroke-linejoin="round"/>
<polygon points="1453.1,1148.4 1485.5,1173.6 1510.0,777.1 1475.5,754.0" fill="#4040ff" stroke="#8a8a8a" stroke-width="1.1" stroke-linejoin="round"/>
<polygon points="1485.5,1173.6 1515.1,1160.6 1541.2,765.2 1510.0,777.1" fill="#0000ff" stroke="#8a8a8a" stroke-width="1.1" stroke-linejoin="round"/>
<polygon points="1510.0,777.1 1475.5,754.0 1506.6,742.4 1541.2,765.2" fill="#0000bf" stroke="#8a8a8a" stroke-width="1.1" stroke-linejoin="round"/>
<polygon points="1418.7,1163.3 1450.9,1188.8 1461.9,995.7 1428.6,971.2" fill="#4040ff" stroke="#8a8a8a" stroke-width="1.1" stroke-linejoin="round"/>
<polygon points="1450.9,1188.8 1480.8,1175.6 1492.6,983.1 1461.9,995.7" fill="#0000ff" stroke="#8a8a8a" stroke-width="1.1" stroke-linejoin="round"/>
<polygon points="1461.9,995.7 1428.6,971.2 1459.2,958.8 1492.6,983.1" fill="#0000bf" stroke="#8a8a8a" stroke-width="1.1" stroke-linejoin="round"/>
<polygon points="1415.8,1203.3 1385.0,1178.7 1414.1,1166.1 1445.0,1190.5" fill="#0000bf" stroke="#444" stroke-width="0.8" stroke-linejoin="round"/>
<polygon points="1380.5,1218.9 1349.9,1194.0 1379.2,1181.3 1410.0,1205.9" fill="#0000bf" stroke="#444" stroke-width="0.8" stroke-linejoin="round"/>
<polygon points="1344.8,1234.5 1314.3,1209.4 1344.0,1196.5 1374.6,1221.5" fill="#0000bf" stroke="#444" stroke-width="0.8" stroke-linejoin="round"/>
<polygon points="1308.7,1250.4 1278.4,1225.0 1308.3,1212.0 1338.8,1237.2" fill="#0000bf" stroke="#444" stroke-width="0.8" stroke-linejoin="round"/>
<polygon points="1272.3,1266.4 1242.0,1240.7 1272.3,1227.6 1302.7,1253.0" fill="#0000bf" stroke="#444" stroke-width="0.8" stroke-linejoin="round"/>
<polygon points="1235.4,1282.6 1205.3,1256.7 1236.0,1243.4 1266.2,1269.1" fill="#0000bf" stroke="#444" stroke-width="0.8" stroke-linejoin="round"/>
<polygon points="1198.1,1298.9 1168.2,1272.7 1199.2,1259.3 1229.2,1285.3" fill="#0000bf" stroke="#444" stroke-width="0.8" stroke-linejoin="round"/>
<polygon points="1160.5,1315.5 1130.7,1289.0 1162.0,1275.4 1191.9,1301.7" fill="#0000bf" stroke="#444" stroke-width="0.8" stroke-linejoin="round"/>
<polygon points="1122.4,1332.2 1092.8,1305.4 1124.4,1291.7 1154.2,1318.3" fill="#0000bf" stroke="#444" stroke-width="0.8" stroke-linejoin="round"/>
<polygon points="1083.9,1349.1 1054.5,1322.1 1086.5,1308.2 1116.0,1335.0" fill="#0000bf" stroke="#444" stroke-width="0.8" stroke-linejoin="round"/>
<polygon points="1045.0,1366.2 1015.7,1338.9 1048.1,1324.8 1077.5,1352.0" fill="#0000bf" stroke="#444" stroke-width="0.8" stroke-linejoin="round"/>
<polygon points="1005.6,1383.5 976.5,1355.8 1009.2,1341.7 1038.5,1369.1" fill="#0000bf" stroke="#444" stroke-width="0.8" stroke-linejoin="round"/>
<polygon points="935.7,1372.7 965.8,1401.9 958.8,986.9 926.9,959.9" fill="#4040ff" stroke="#8a8a8a" stroke-width="1.1" stroke-linejoin="round"/>
<polygon points="965.8,1401.9 1000.2,1386.8 995.5,973.0 958.8,986.9" fill="#0000ff" stroke="#8a8a8a" stroke-width="1.1" stroke-linejoin="round"/>
<polygon points="958.8,986.9 926.9,959.9 963.3,946.2 995.5,973.0" fill="#0000bf" stroke="#8a8a8a" stroke-width="1.1" stroke-linejoin="round"/>
<polygon points="895.6,1390.0 925.6,1419.6 910.6,774.2 877.8,748.2" fill="#4040ff" stroke="#8a8a8a" stroke-width="1.1" stroke-linejoin="round"/>
<polygon points="925.6,1419.6 960.4,1404.3 949.0,760.8 910.6,774.2" fill="#0000ff" stroke="#8a8a8a" stroke-width="1.1" stroke-linejoin="round"/>
<polygon points="910.6,774.2 877.8,748.2 916.0,735.1 949.0,760.8" fill="#0000bf" stroke="#8a8a8a" stroke-width="1.1" stroke-linejoin="round"/>
<polygon points="1600.0,1138.5 1633.5,1163.5 1704.1,322.7 1665.7,302.5" fill="#ff4040" stroke="#8a8a8a" stroke-width="1.1" stroke-linejoin="round"/>
<polygon points="1633.5,1163.5 1662.3,1150.6 1736.1,312.4 1704.1,322.7" fill="#ff0000" stroke="#8a8a8a" stroke-width="1.1" stroke-linejoin="round"/>
<polygon points="1704.1,322.7 1665.7,302.5 1697.7,292.4 1736.1,312.4" fill="#bf0000" stroke="#8a8a8a" stroke-width="1.1" stroke-linejoin="round"/>
<polygon points="1566.4,1153.3 1599.8,1178.6 1648.3,565.1 1611.4,543.3" fill="#ff4040" stroke="#8a8a8a" stroke-width="1.1" stroke-linejoin="round"/>
<polygon points="1599.8,1178.6 1628.9,1165.5 1679.8,553.9 1648.3,565.1" fill="#ff0000" stroke="#8a8a8a" stroke-width="1.1" stroke-linejoin="round"/>
<polygon points="1648.3,565.1 1611.4,543.3 1642.9,532.3 1679.8,553.9" fill="#bf0000" stroke="#8a8a8a" stroke-width="1.1" stroke-linejoin="round"/>
<polygon points="1532.5,1168.3 1565.8,1193.8 1628.5,346.9 1590.5,326.3" fill="#ff4040" stroke="#8a8a8a" stroke-width="1.1" stroke-linejoin="round"/>
<polygon points="1565.8,1193.8 1595.2,1180.6 1661.3,336.4 1628.5,346.9" fill="#ff0000" stroke="#8a8a8a" stroke-width="1.1" stroke-linejoin="round"/>
<polygon points="1628.5,346.9 1590.5,326.3 1623.2,316.0 1661.3,336.4" fill="#bf0000" stroke="#8a8a8a" stroke-width="1.1" stroke-linejoin="round"/>
<polygon points="1498.2,1183.5 1531.4,1209.2 1558.9,809.9 1523.6,786.2" fill="#ff4040" stroke="#8a8a8a" stroke-width="1.1" stroke-linejoin="round"/>
<polygon points="1531.4,1209.2 1561.1,1195.9 1590.3,797.7 1558.9,809.9" fill="#ff0000" stroke="#8a8a8a" stroke-width="1.1" stroke-linejoin="round"/>
<polygon points="1558.9,809.9 1523.6,786.2 1554.8,774.2 1590.3,797.7" fill="#bf0000" stroke="#8a8a8a" stroke-width="1.1" stroke-linejoin="round"/>
<polygon points="1463.6,1198.8 1496.6,1224.8 1509.0,1030.4 1475.0,1005.3" fill="#ff4040" stroke="#8a8a8a" stroke-width="1.1" stroke-linejoin="round"/>
<polygon points="1496.6,1224.8 1526.6,1211.3 1539.9,1017.4 1509.0,1030.4" fill="#ff0000" stroke="#8a8a8a" stroke-width="1.1" stroke-linejoin="round"/>
<polygon points="1509.0,1030.4 1475.0,1005.3 1505.7,992.6 1539.9,1017.4" fill="#bf0000" stroke="#8a8a8a" stroke-width="1.1" stroke-linejoin="round"/>
<polygon points="1461.3,1239.7 1429.8,1214.5 1459.0,1201.6 1490.6,1226.6" fill="#bf0000" stroke="#444" stroke-width="0.8" stroke-linejoin="round"/>
<polygon points="1425.8,1255.6 1394.4,1230.2 1423.9,1217.1 1455.4,1242.4" fill="#bf0000" stroke="#444" stroke-width="0.8" stroke-linejoin="round"/>
<polygon points="1389.9,1271.7 1358.7,1246.0 1388.5,1232.8 1419.9,1258.3" fill="#bf0000" stroke="#444" stroke-width="0.8" stroke-linejoin="round"/>
<polygon points="1353.6,1287.9 1322.5,1261.9 1352.7,1248.6 1383.9,1274.4" fill="#bf0000" stroke="#444" stroke-width="0.8" stroke-linejoin="round"/>
<polygon points="1317.0,1304.4 1286.0,1278.1 1316.5,1264.6 1347.6,1290.7" fill="#bf0000" stroke="#444" stroke-width="0.8" stroke-linejoin="round"/>
<polygon points="1279.9,1321.0 1249.1,1294.4 1279.9,1280.8 1310.8,1307.1" fill="#bf0000" stroke="#444" stroke-width="0.8" stroke-linejoin="round"/>
<polygon points="1242.4,1337.7 1211.7,1310.9 1242.9,1297.1 1273.7,1323.7" fill="#bf0000" stroke="#444" stroke-width="0.8" stroke-linejoin="round"/>
<polygon points="1204.5,1354.7 1174.0,1327.5 1205.5,1313.6 1236.1,1340.5" fill="#bf0000" stroke="#444" stroke-width="0.8" stroke-linejoin="round"/>
<polygon points="1166.2,1371.9 1135.9,1344.4 1167.7,1330.3 1198.2,1357.5" fill="#bf0000" stroke="#444" stroke-width="0.8" stroke-linejoin="round"/>
<polygon points="1127.5,1389.2 1097.3,1361.4 1129.5,1347.2 1159.8,1374.7" fill="#bf0000" stroke="#444" stroke-width="0.8" stroke-linejoin="round"/>
<polygon points="1088.3,1406.7 1058.3,1378.7 1090.8,1364.3 1121.0,1392.1" fill="#bf0000" stroke="#444" stroke-width="0.8" stroke-linejoin="round"/>
<polygon points="1048.6,1424.5 1018.8,1396.1 1051.8,1381.6 1081.7,1409.7" fill="#bf0000" stroke="#444" stroke-width="0.8" stroke-linejoin="round"/>
<polygon points="977.7,1413.4 1008.6,1443.3 1004.3,1025.4 971.5,997.6" fill="#ff4040" stroke="#8a8a8a" stroke-width="1.1" stroke-linejoin="round"/>
<polygon points="1008.6,1443.3 1043.3,1427.8 1041.3,1011.0 1004.3,1025.4" fill="#ff0000" stroke="#8a8a8a" stroke-width="1.1" stroke-linejoin="round"/>
<polygon points="1004.3,1025.4 971.5,997.6 1008.2,983.5 1041.3,1011.0" fill="#bf0000" stroke="#8a8a8a" stroke-width="1.1" stroke-linejoin="round"/>
<polygon points="937.4,1431.2 968.1,1461.5 953.1,563.8 918.3,538.8" fill="#ff4040" stroke="#8a8a8a" stroke-width="1.1" stroke-linejoin="round"/>
<polygon points="968.1,1461.5 1003.1,1445.8 993.1,550.9 953.1,563.8" fill="#ff0000" stroke="#8a8a8a" stroke-width="1.1" stroke-linejoin="round"/>
<polygon points="953.1,563.8 918.3,538.8 958.1,526.2 993.1,550.9" fill="#bf0000" stroke="#8a8a8a" stroke-width="1.1" stroke-linejoin="round"/>
<polygon points="1646.7,1173.3 1680.9,1198.9 1758.5,351.2 1719.2,330.6" fill="#404040" stroke="#8a8a8a" stroke-width="1.1" stroke-linejoin="round"/>
<polygon points="1680.9,1198.9 1709.9,1185.7 1790.8,340.6 1758.5,351.2" fill="#000000" stroke="#8a8a8a" stroke-width="1.1" stroke-linejoin="round"/>
<polygon points="1758.5,351.2 1719.2,330.6 1751.3,320.2 1790.8,340.6" fill="#000000" stroke="#8a8a8a" stroke-width="1.1" stroke-linejoin="round"/>
<polygon points="1612.9,1188.5 1647.1,1214.3 1720.8,363.6 1681.6,342.7" fill="#404040" stroke="#8a8a8a" stroke-width="1.1" stroke-linejoin="round"/>
<polygon points="1647.1,1214.3 1676.4,1201.0 1753.4,352.9 1720.8,363.6" fill="#000000" stroke="#8a8a8a" stroke-width="1.1" stroke-linejoin="round"/>
<polygon points="1720.8,363.6 1681.6,342.7 1714.1,332.2 1753.4,352.9" fill="#000000" stroke="#8a8a8a" stroke-width="1.1" stroke-linejoin="round"/>
<polygon points="1578.8,1203.8 1612.9,1230.0 1682.6,376.2 1643.5,355.0" fill="#404040" stroke="#8a8a8a" stroke-width="1.1" stroke-linejoin="round"/>
<polygon points="1612.9,1230.0 1642.5,1216.5 1715.6,365.3 1682.6,376.2" fill="#000000" stroke="#8a8a8a" stroke-width="1.1" stroke-linejoin="round"/>
<polygon points="1682.6,376.2 1643.5,355.0 1676.4,344.4 1715.6,365.3" fill="#000000" stroke="#8a8a8a" stroke-width="1.1" stroke-linejoin="round"/>
<polygon points="1544.4,1219.4 1578.3,1245.7 1609.2,843.5 1572.9,819.2" fill="#404040" stroke="#8a8a8a" stroke-width="1.1" stroke-linejoin="round"/>
<polygon points="1578.3,1245.7 1608.2,1232.1 1640.7,831.0 1609.2,843.5" fill="#000000" stroke="#8a8a8a" stroke-width="1.1" stroke-linejoin="round"/>
<polygon points="1609.2,843.5 1572.9,819.2 1604.3,806.9 1640.7,831.0" fill="#000000" stroke="#8a8a8a" stroke-width="1.1" stroke-linejoin="round"/>
<polygon points="1509.6,1235.0 1543.4,1261.7 1557.4,1065.9 1522.5,1040.2" fill="#404040" stroke="#8a8a8a" stroke-width="1.1" stroke-linejoin="round"/>
<polygon points="1543.4,1261.7 1573.6,1247.9 1588.4,1052.7 1557.4,1065.9" fill="#000000" stroke="#8a8a8a" stroke-width="1.1" stroke-linejoin="round"/>
<polygon points="1557.4,1065.9 1522.5,1040.2 1553.4,1027.2 1588.4,1052.7" fill="#000000" stroke="#8a8a8a" stroke-width="1.1" stroke-linejoin="round"/>
<polygon points="1507.9,1277.0 1475.6,1251.2 1505.0,1238.0 1537.4,1263.6" fill="#000000" stroke="#444" stroke-width="0.8" stroke-linejoin="round"/>
<polygon points="1472.2,1293.3 1440.1,1267.2 1469.7,1253.8 1502.0,1279.7" fill="#000000" stroke="#444" stroke-width="0.8" stroke-linejoin="round"/>
<polygon points="1436.1,1309.8 1404.1,1283.4 1434.1,1269.9 1466.2,1296.0" fill="#000000" stroke="#444" stroke-width="0.8" stroke-linejoin="round"/>
<polygon points="1399.7,1326.4 1367.8,1299.8 1398.1,1286.1 1430.1,1312.5" fill="#000000" stroke="#444" stroke-width="0.8" stroke-linejoin="round"/>
<polygon points="1362.8,1343.3 1331.0,1316.3 1361.7,1302.5 1393.6,1329.2" fill="#000000" stroke="#444" stroke-width="0.8" stroke-linejoin="round"/>
<polygon points="1325.5,1360.3 1293.9,1333.0 1324.9,1319.1 1356.6,1346.1" fill="#000000" stroke="#444" stroke-width="0.8" stroke-linejoin="round"/>
<polygon points="1287.8,1377.5 1256.4,1350.0 1287.7,1335.8 1319.3,1363.1" fill="#000000" stroke="#444" stroke-width="0.8" stroke-linejoin="round"/>
<polygon points="1249.7,1394.9 1218.4,1367.1 1250.1,1352.8 1281.5,1380.4" fill="#000000" stroke="#444" stroke-width="0.8" stroke-linejoin="round"/>
<polygon points="1211.1,1412.5 1180.0,1384.3 1212.0,1369.9 1243.3,1397.8" fill="#000000" stroke="#444" stroke-width="0.8" stroke-linejoin="round"/>
<polygon points="1172.1,1430.3 1141.2,1401.8 1173.6,1387.2 1204.7,1415.5" fill="#000000" stroke="#444" stroke-width="0.8" stroke-linejoin="round"/>
<polygon points="1132.7,1448.3 1101.9,1419.5 1134.7,1404.8 1165.6,1433.3" fill="#000000" stroke="#444" stroke-width="0.8" stroke-linejoin="round"/>
<polygon points="1092.8,1466.5 1062.2,1437.4 1095.4,1422.5 1126.1,1451.3" fill="#000000" stroke="#444" stroke-width="0.8" stroke-linejoin="round"/>
<polygon points="1020.8,1455.1 1052.5,1485.9 1050.3,832.7 1015.4,805.6" fill="#404040" stroke="#8a8a8a" stroke-width="1.1" stroke-linejoin="round"/>
<polygon points="1052.5,1485.9 1087.4,1469.9 1088.8,818.8 1050.3,832.7" fill="#000000" stroke="#8a8a8a" stroke-width="1.1" stroke-linejoin="round"/>
<polygon points="1050.3,832.7 1015.4,805.6 1053.6,791.9 1088.8,818.8" fill="#000000" stroke="#8a8a8a" stroke-width="1.1" stroke-linejoin="round"/>
<polygon points="980.2,1473.4 1011.7,1504.5 1005.2,849.1 970.5,821.7" fill="#404040" stroke="#8a8a8a" stroke-width="1.1" stroke-linejoin="round"/>
<polygon points="1011.7,1504.5 1047.0,1488.4 1044.2,835.0 1005.2,849.1" fill="#000000" stroke="#8a8a8a" stroke-width="1.1" stroke-linejoin="round"/>
<polygon points="1005.2,849.1 970.5,821.7 1009.3,807.8 1044.2,835.0" fill="#000000" stroke="#8a8a8a" stroke-width="1.1" stroke-linejoin="round"/>
<line x1="932.8" y1="1548.9" x2="1716.0" y2="1190.6" stroke="#000" stroke-width="3.6" />
<line x1="915.4" y1="1531.1" x2="953.5" y2="1570.1" stroke="#000" stroke-width="5" />
<line x1="956.8" y1="1512.3" x2="995.2" y2="1550.9" stroke="#000" stroke-width="5" />
<line x1="997.8" y1="1493.7" x2="1036.4" y2="1531.8" stroke="#000" stroke-width="5" />
<line x1="1038.2" y1="1475.3" x2="1077.1" y2="1513.0" stroke="#000" stroke-width="5" />
<line x1="1078.3" y1="1457.2" x2="1117.4" y2="1494.4" stroke="#000" stroke-width="5" />
<line x1="1117.8" y1="1439.2" x2="1157.1" y2="1476.0" stroke="#000" stroke-width="5" />
<line x1="1156.9" y1="1421.4" x2="1196.5" y2="1457.8" stroke="#000" stroke-width="5" />
<line x1="1195.6" y1="1403.8" x2="1235.4" y2="1439.9" stroke="#000" stroke-width="5" />
<line x1="1233.9" y1="1386.5" x2="1273.8" y2="1422.1" stroke="#000" stroke-width="5" />
<line x1="1271.7" y1="1369.3" x2="1311.9" y2="1404.5" stroke="#000" stroke-width="5" />
<line x1="1309.1" y1="1352.3" x2="1349.5" y2="1387.1" stroke="#000" stroke-width="5" />
<line x1="1346.1" y1="1335.5" x2="1386.7" y2="1370.0" stroke="#000" stroke-width="5" />
<line x1="1382.7" y1="1318.8" x2="1423.4" y2="1353.0" stroke="#000" stroke-width="5" />
<line x1="1418.9" y1="1302.4" x2="1459.8" y2="1336.1" stroke="#000" stroke-width="5" />
<line x1="1454.8" y1="1286.1" x2="1495.8" y2="1319.5" stroke="#000" stroke-width="5" />
<line x1="1490.2" y1="1270.0" x2="1531.4" y2="1303.1" stroke="#000" stroke-width="5" />
<line x1="1525.3" y1="1254.1" x2="1566.6" y2="1286.8" stroke="#000" stroke-width="5" />
<line x1="1559.9" y1="1238.3" x2="1601.5" y2="1270.7" stroke="#000" stroke-width="5" />
<line x1="1594.3" y1="1222.7" x2="1635.9" y2="1254.8" stroke="#000" stroke-width="5" />
<line x1="1628.2" y1="1207.3" x2="1670.0" y2="1239.0" stroke="#000" stroke-width="5" />
<line x1="1661.8" y1="1192.0" x2="1703.8" y2="1223.4" stroke="#000" stroke-width="5" />
<line x1="1695.1" y1="1176.9" x2="1737.2" y2="1208.0" stroke="#000" stroke-width="5" />
<line x1="932.8" y1="1548.9" x2="448.4" y2="1053.0" stroke="#000" stroke-width="6" />
<line x1="902.6" y1="1562.8" x2="932.8" y2="1548.9" stroke="#000" stroke-width="5" />
<line x1="859.7" y1="1518.2" x2="916.9" y2="1492.5" stroke="#000" stroke-width="5" />
<line x1="817.8" y1="1474.8" x2="874.7" y2="1449.8" stroke="#000" stroke-width="5" />
<line x1="777.1" y1="1432.5" x2="833.5" y2="1408.1" stroke="#000" stroke-width="5" />
<line x1="737.4" y1="1391.3" x2="793.4" y2="1367.6" stroke="#000" stroke-width="5" />
<line x1="698.7" y1="1351.2" x2="754.3" y2="1328.0" stroke="#000" stroke-width="5" />
<line x1="660.9" y1="1312.0" x2="716.1" y2="1289.4" stroke="#000" stroke-width="5" />
<line x1="624.1" y1="1273.8" x2="678.9" y2="1251.8" stroke="#000" stroke-width="5" />
<line x1="588.2" y1="1236.5" x2="642.6" y2="1215.0" stroke="#000" stroke-width="5" />
<line x1="553.2" y1="1200.1" x2="607.2" y2="1179.2" stroke="#000" stroke-width="5" />
<line x1="518.9" y1="1164.6" x2="572.5" y2="1144.1" stroke="#000" stroke-width="5" />
<line x1="485.5" y1="1129.9" x2="538.7" y2="1109.9" stroke="#000" stroke-width="5" />
<line x1="452.9" y1="1096.1" x2="505.7" y2="1076.5" stroke="#000" stroke-width="5" />
<line x1="448.4" y1="1053.0" x2="372.6" y2="231.8" stroke="#000" stroke-width="5.4" />
<line x1="448.4" y1="1053.0" x2="396.4" y2="1071.9" stroke="#000" stroke-width="5" />
<line x1="444.2" y1="1006.9" x2="418.1" y2="1016.2" stroke="#000" stroke-width="5" />
<line x1="439.9" y1="960.2" x2="387.1" y2="978.7" stroke="#000" stroke-width="5" />
<line x1="435.5" y1="912.8" x2="409.0" y2="921.9" stroke="#000" stroke-width="5" />
<line x1="431.0" y1="864.8" x2="377.4" y2="882.9" stroke="#000" stroke-width="5" />
<line x1="426.5" y1="816.1" x2="399.6" y2="825.0" stroke="#000" stroke-width="5" />
<line x1="422.0" y1="766.7" x2="367.6" y2="784.4" stroke="#000" stroke-width="5" />
<line x1="417.4" y1="716.6" x2="390.0" y2="725.3" stroke="#000" stroke-width="5" />
<line x1="412.7" y1="665.8" x2="357.4" y2="683.1" stroke="#000" stroke-width="5" />
<line x1="407.9" y1="614.3" x2="380.2" y2="622.8" stroke="#000" stroke-width="5" />
<line x1="403.1" y1="562.0" x2="346.9" y2="578.8" stroke="#000" stroke-width="5" />
<line x1="398.2" y1="509.0" x2="370.0" y2="517.2" stroke="#000" stroke-width="5" />
<line x1="393.2" y1="455.2" x2="336.2" y2="471.4" stroke="#000" stroke-width="5" />
<line x1="388.2" y1="400.6" x2="359.5" y2="408.5" stroke="#000" stroke-width="5" />
<line x1="383.0" y1="345.1" x2="325.1" y2="360.7" stroke="#000" stroke-width="5" />
<line x1="377.8" y1="288.9" x2="348.7" y2="296.5" stroke="#000" stroke-width="5" />
<line x1="372.6" y1="231.8" x2="313.6" y2="246.7" stroke="#000" stroke-width="5" />
<g fill="#000">
<text transform="matrix(0.9385,-0.3453,0.2924,0.9563,267.3,1118.9)" font-family="Liberation Sans, Arial, sans-serif" font-size="56.0" text-anchor="middle" dy="0.358em" stroke="#000" stroke-width="0.3">0.0</text>
<text transform="matrix(0.9411,-0.3381,0.2735,0.9619,256.9,1024.4)" font-family="Liberation Sans, Arial, sans-serif" font-size="55.8" text-anchor="middle" dy="0.358em" stroke="#000" stroke-width="0.3">0.5</text>
<text transform="matrix(0.9437,-0.3309,0.2546,0.9670,246.3,927.3)" font-family="Liberation Sans, Arial, sans-serif" font-size="55.6" text-anchor="middle" dy="0.358em" stroke="#000" stroke-width="0.3">1.0</text>
<text transform="matrix(0.9462,-0.3237,0.2356,0.9719,235.4,827.4)" font-family="Liberation Sans, Arial, sans-serif" font-size="55.4" text-anchor="middle" dy="0.358em" stroke="#000" stroke-width="0.3">1.5</text>
<text transform="matrix(0.9486,-0.3165,0.2164,0.9763,224.3,724.6)" font-family="Liberation Sans, Arial, sans-serif" font-size="55.2" text-anchor="middle" dy="0.358em" stroke="#000" stroke-width="0.3">2.0</text>
<text transform="matrix(0.9510,-0.3092,0.1972,0.9804,212.8,618.7)" font-family="Liberation Sans, Arial, sans-serif" font-size="55.1" text-anchor="middle" dy="0.358em" stroke="#000" stroke-width="0.3">2.5</text>
<text transform="matrix(0.9533,-0.3020,0.1779,0.9840,201.0,509.7)" font-family="Liberation Sans, Arial, sans-serif" font-size="54.9" text-anchor="middle" dy="0.358em" stroke="#000" stroke-width="0.3">3.0</text>
<text transform="matrix(0.9556,-0.2947,0.1586,0.9873,188.9,397.4)" font-family="Liberation Sans, Arial, sans-serif" font-size="54.7" text-anchor="middle" dy="0.358em" stroke="#000" stroke-width="0.3">3.5</text>
<text transform="matrix(0.9578,-0.2874,0.1392,0.9903,176.5,281.6)" font-family="Liberation Sans, Arial, sans-serif" font-size="54.5" text-anchor="middle" dy="0.358em" stroke="#000" stroke-width="0.3">4.0</text>
<text transform="translate(70,765) rotate(-90)" font-family="Liberation Serif, Times New Roman, serif" font-size="68.4" text-anchor="middle" stroke="#000" stroke-width="0.7">Level of Virulance</text>
<text transform="translate(377,1198) rotate(49.8)" font-family="Liberation Serif, Times New Roman, serif" font-size="67" stroke="#000" stroke-width="0.7">Tested phages</text>
<text transform="translate(1700,1925) rotate(-29.5)" font-family="Liberation Serif, Times New Roman, serif" font-size="68" stroke="#000" stroke-width="0.7">Target strains</text>
<text transform="translate(1046.0,1531.6) rotate(40.2) scale(0.85,1)" font-family="Liberation Sans, Arial, sans-serif" font-size="34.5" style="white-space:pre" stroke="#000" stroke-width="0.35">Salmonella Enteritidis  ATCC 13076</text>
<text transform="translate(1086.6,1513.0) rotate(40.2) scale(0.85,1)" font-family="Liberation Sans, Arial, sans-serif" font-size="34.5" style="white-space:pre" stroke="#000" stroke-width="0.35">Salmonella Typhimurium  ATCC 14028</text>
<text transform="translate(1126.8,1494.7) rotate(40.2) scale(0.85,1)" font-family="Liberation Sans, Arial, sans-serif" font-size="34.5" style="white-space:pre" stroke="#000" stroke-width="0.35">Salmonella Pullorum CVCC 534</text>
<text transform="translate(1166.5,1476.6) rotate(40.2) scale(0.85,1)" font-family="Liberation Sans, Arial, sans-serif" font-size="34.5" style="white-space:pre" stroke="#000" stroke-width="0.35">Lactobacillus  acidophilus ATCC SD5221</text>
<text transform="translate(1205.8,1458.6) rotate(40.2) scale(0.85,1)" font-family="Liberation Sans, Arial, sans-serif" font-size="34.5" style="white-space:pre" stroke="#000" stroke-width="0.35">Escherichia  coli  2134p F18ac</text>
<text transform="translate(1244.6,1440.9) rotate(40.2) scale(0.85,1)" font-family="Liberation Sans, Arial, sans-serif" font-size="34.5" style="white-space:pre" stroke="#000" stroke-width="0.35">Escherichia  coli  tran10</text>
<text transform="translate(1283.1,1423.4) rotate(40.2) scale(0.85,1)" font-family="Liberation Sans, Arial, sans-serif" font-size="34.5" style="white-space:pre" stroke="#000" stroke-width="0.35">Staphylococcus aureus ATCC 6538</text>
<text transform="translate(1321.1,1406.0) rotate(40.2) scale(0.85,1)" font-family="Liberation Sans, Arial, sans-serif" font-size="34.5" style="white-space:pre" stroke="#000" stroke-width="0.35">Staphylococcus aureus ATCC 29213</text>
<text transform="translate(1358.6,1388.9) rotate(40.2) scale(0.85,1)" font-family="Liberation Sans, Arial, sans-serif" font-size="34.5" style="white-space:pre" stroke="#000" stroke-width="0.35">Vibrio parahaemolyticus ATCC 33846</text>
<text transform="translate(1395.8,1371.9) rotate(40.2) scale(0.85,1)" font-family="Liberation Sans, Arial, sans-serif" font-size="34.5" style="white-space:pre" stroke="#000" stroke-width="0.35">Listeria monocytogenes ATCC 19114</text>
<text transform="translate(1432.6,1355.2) rotate(40.2) scale(0.85,1)" font-family="Liberation Sans, Arial, sans-serif" font-size="34.5" style="white-space:pre" stroke="#000" stroke-width="0.35">Escherichia coli 83715</text>
<text transform="translate(1469.0,1338.6) rotate(40.2) scale(0.85,1)" font-family="Liberation Sans, Arial, sans-serif" font-size="34.5" style="white-space:pre" stroke="#000" stroke-width="0.35">Escherichia coli BL21</text>
<text transform="translate(1505.0,1322.1) rotate(40.2) scale(0.85,1)" font-family="Liberation Sans, Arial, sans-serif" font-size="34.5" style="white-space:pre" stroke="#000" stroke-width="0.35">Escherichia coli  DH5a</text>
<text transform="translate(1540.7,1305.9) rotate(40.2) scale(0.85,1)" font-family="Liberation Sans, Arial, sans-serif" font-size="34.5" style="white-space:pre" stroke="#000" stroke-width="0.35">Salmonella Anatum ATCC 9270</text>
<text transform="translate(1575.9,1289.8) rotate(40.2) scale(0.85,1)" font-family="Liberation Sans, Arial, sans-serif" font-size="34.5" style="white-space:pre" stroke="#000" stroke-width="0.35">Salmonella choleraesuls ATCC 10708</text>
<text transform="translate(1610.8,1273.9) rotate(40.2) scale(0.85,1)" font-family="Liberation Sans, Arial, sans-serif" font-size="34.5" style="white-space:pre" stroke="#000" stroke-width="0.35">Salmonella Typhimurium  ATCC 13311</text>
<text transform="translate(1645.3,1258.1) rotate(40.2) scale(0.85,1)" font-family="Liberation Sans, Arial, sans-serif" font-size="34.5" style="white-space:pre" stroke="#000" stroke-width="0.35">Salmonella Enteritidis  SJTUF 10978</text>
<text transform="translate(1679.5,1242.5) rotate(40.2) scale(0.85,1)" font-family="Liberation Sans, Arial, sans-serif" font-size="34.5" style="white-space:pre" stroke="#000" stroke-width="0.35">Salmonella paratyphi B CMCC 50094</text>
<text transform="translate(1713.3,1227.1) rotate(40.2) scale(0.85,1)" font-family="Liberation Sans, Arial, sans-serif" font-size="34.5" style="white-space:pre" stroke="#000" stroke-width="0.35">Salmonella Enteritidis  SJTUF 10984</text>
</g>
<rect x="1916.4" y="23.9" width="449.3" height="1168.2" fill="#fff" stroke="#000" stroke-width="2"/>
<rect x="1953.2" y="92.9" width="145.4" height="57" fill="#000000" stroke="#808080" stroke-width="1.5"/>
<text x="2114.2" y="142.9" font-family="Liberation Serif, Times New Roman, serif" font-size="64" stroke="#000" stroke-width="0.8" dx="0 0 0 0 3.7">LPSE1</text>
<rect x="1953.2" y="174.8" width="145.4" height="57" fill="#ff0000" stroke="#808080" stroke-width="1.5"/>
<text x="2114.2" y="224.8" font-family="Liberation Serif, Times New Roman, serif" font-size="64" stroke="#000" stroke-width="0.8" dx="0 0 0 0 3.7">LPSE8</text>
<rect x="1953.2" y="256.7" width="145.4" height="57" fill="#0000ff" stroke="#808080" stroke-width="1.5"/>
<text x="2114.2" y="306.7" font-family="Liberation Serif, Times New Roman, serif" font-size="64" stroke="#000" stroke-width="0.8" dx="0 0 0 0 3.7">LPSE9</text>
<rect x="1953.2" y="338.6" width="145.4" height="57" fill="#008080" stroke="#808080" stroke-width="1.5"/>
<text x="2114.2" y="388.6" font-family="Liberation Serif, Times New Roman, serif" font-size="64" stroke="#000" stroke-width="0.8" dx="0 0 0 0 3.7">LPSE10</text>
<rect x="1953.2" y="420.5" width="145.4" height="57" fill="#ff00ff" stroke="#808080" stroke-width="1.5"/>
<text x="2114.2" y="470.5" font-family="Liberation Serif, Times New Roman, serif" font-size="64" stroke="#000" stroke-width="0.8" dx="0 0 0 0 3.7">LPSE12</text>
<rect x="1953.2" y="502.4" width="145.4" height="57" fill="#808000" stroke="#808080" stroke-width="1.5"/>
<text x="2114.2" y="552.4" font-family="Liberation Serif, Times New Roman, serif" font-size="64" stroke="#000" stroke-width="0.8" dx="0 0 0 0 3.7">LPSE14</text>
<rect x="1953.2" y="584.3" width="145.4" height="57" fill="#000080" stroke="#808080" stroke-width="1.5"/>
<text x="2114.2" y="634.3" font-family="Liberation Serif, Times New Roman, serif" font-size="64" stroke="#000" stroke-width="0.8" dx="0 0 0 0 3.7">LPSE17</text>
<rect x="1953.2" y="666.2" width="145.4" height="57" fill="#800000" stroke="#808080" stroke-width="1.5"/>
<text x="2114.2" y="716.2" font-family="Liberation Serif, Times New Roman, serif" font-size="64" stroke="#000" stroke-width="0.8" dx="0 0 0 0 3.7">LPSE19</text>
<rect x="1953.2" y="748.1" width="145.4" height="57" fill="#ff0080" stroke="#808080" stroke-width="1.5"/>
<text x="2114.2" y="798.1" font-family="Liberation Serif, Times New Roman, serif" font-size="64" stroke="#000" stroke-width="0.8" dx="0 0 0 0 3.7">LPSE20</text>
<rect x="1953.2" y="830.0" width="145.4" height="57" fill="#008000" stroke="#808080" stroke-width="1.5"/>
<text x="2114.2" y="880.0" font-family="Liberation Serif, Times New Roman, serif" font-size="64" stroke="#000" stroke-width="0.8" dx="0 0 0 0 3.7">LPSE22</text>
<rect x="1953.2" y="911.9" width="145.4" height="57" fill="#0000a0" stroke="#808080" stroke-width="1.5"/>
<text x="2114.2" y="961.9" font-family="Liberation Serif, Times New Roman, serif" font-size="64" stroke="#000" stroke-width="0.8" dx="0 0 0 0 3.7">LPSE23</text>
<rect x="1953.2" y="993.8" width="145.4" height="57" fill="#ff8000" stroke="#808080" stroke-width="1.5"/>
<text x="2114.2" y="1043.8" font-family="Liberation Serif, Times New Roman, serif" font-size="64" stroke="#000" stroke-width="0.8" dx="0 0 0 0 3.7">LPSE24</text>
<rect x="1953.2" y="1075.7" width="145.4" height="57" fill="#800080" stroke="#808080" stroke-width="1.5"/>
<text x="2114.2" y="1125.7" font-family="Liberation Serif, Times New Roman, serif" font-size="64" stroke="#000" stroke-width="0.8" dx="0 0 0 0 3.7">LPSE25</text>
</svg></body></html>
